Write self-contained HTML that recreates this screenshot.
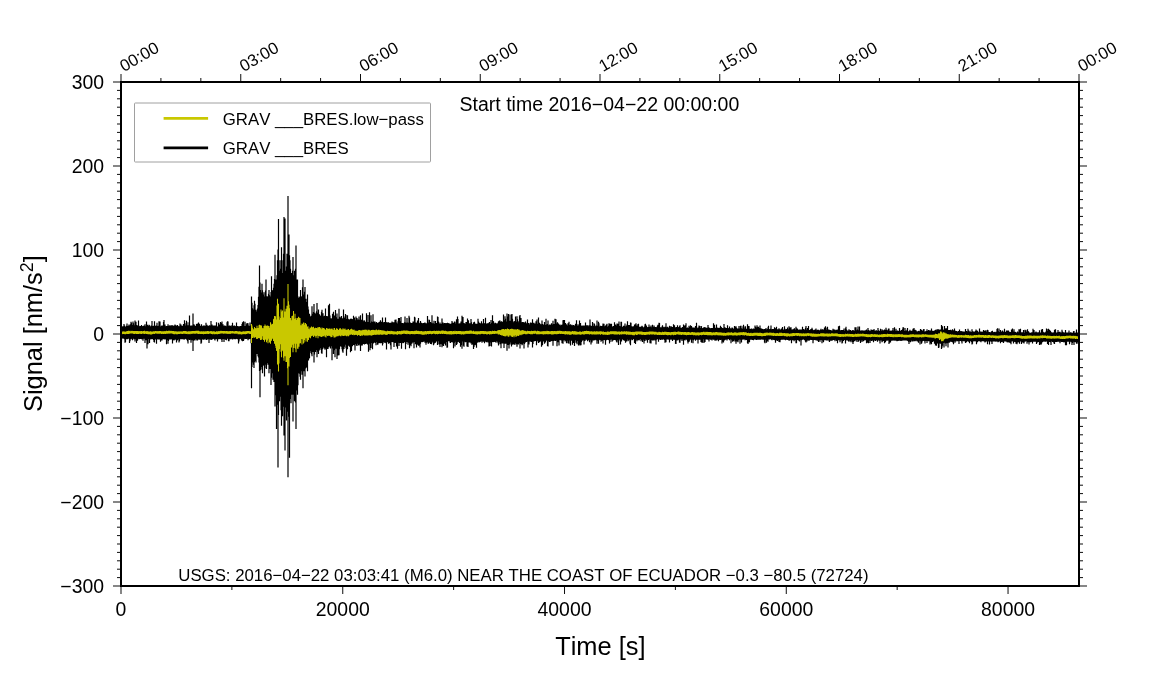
<!DOCTYPE html>
<html lang="en">
<head>
<meta charset="utf-8">
<title>GRAV BRES signal</title>
<style>
html,body{margin:0;padding:0;background:#fff;}
body{width:1151px;height:700px;overflow:hidden;}
svg{display:block;}
text{font-family:"Liberation Sans", "Helvetica", "Arial", sans-serif;fill:#000;font-kerning:none;}
.ann{font-size:19.4px;}
.lab{font-size:25.4px;}
.top{font-size:16.8px;}
.leg{font-size:16.8px;}
.note{font-size:16.8px;}
</style>
</head>
<body>
<svg width="1151" height="700" viewBox="0 0 1151 700">
<rect x="0" y="0" width="1151" height="700" fill="#fff"/>
<g fill="none" stroke-linejoin="miter" stroke-miterlimit="2" stroke-linecap="butt">
<path stroke="#000" stroke-width="1.2" d="M121 325.86V338.2M121.5 326.24V341.51M122 326.3V338.28M122.5 326.45V338.16M123 326.56V338.75M123.5 326.18V338.46M124 324.06V338.29M124.5 325.4V339.33M125 326.69V342.8M125.5 326.62V342.21M126 326.6V338.68M126.5 325.85V339.33M127 323.53V338.29M127.5 326.06V339.29M128 326.36V338.77M128.5 325.81V338.83M129 324.43V338.39M129.5 325.51V342.9M130 325.84V341.29M130.5 324.17V339.19M131 321.81V339.18M131.5 322.64V338.69M132 324.93V338.82M132.5 325.17V340.37M133 321.47V339.32M133.5 323.16V338.42M134 325.29V338.22M134.5 325.81V339.3M135 320.52V341.52M135.5 326.43V338.31M136 321.82V339.36M136.5 326.17V343.09M137 325.01V339.22M137.5 325.92V340.78M138 326.73V338.72M138.5 320.62V338.74M139 325.84V339.23M139.5 326.7V339.08M140 326.31V338.45M140.5 325.99V338.95M141 326.13V338.24M141.5 325.05V339.22M142 325.93V339.36M142.5 326.54V339.24M143 326.18V340.69M143.5 326.07V338.56M144 325.61V338.75M144.5 326.39V338.55M145 324.22V342.9M145.5 326.37V339.49M146 326.2V340.37M146.5 321.43V338.34M147 326.3V348.5M147.5 324.68V341.61M148 326.35V344.15M148.5 325.89V338.94M149 324.77V338.91M149.5 325.2V343.04M150 326.7V339.53M150.5 326.48V338.94M151 325.76V339.36M151.5 325.51V338.68M152 321.01V339.37M152.5 326.07V338.92M153 326.14V339.07M153.5 325.81V340.11M154 326.49V341.89M154.5 321.18V342.59M155 326.24V339.85M155.5 326.04V338.63M156 325.53V339.1M156.5 326.34V343.78M157 322.74V339.4M157.5 326.05V339.35M158 326.53V338.49M158.5 325.87V339.59M159 321.32V339.54M159.5 323.05V339.48M160 321.38V339.02M160.5 326.49V341.87M161 326.63V340.47M161.5 325.76V338.95M162 325.56V340.54M162.5 326.5V338.4M163 325.4V339.21M163.5 321.88V339.31M164 320.06V339.35M164.5 325.45V339.16M165 324.49V339.5M165.5 326.52V339.02M166 326.19V339.25M166.5 326V344.25M167 325.97V338.46M167.5 326.6V340.16M168 324.16V343.85M168.5 325.79V341.12M169 326.36V338.98M169.5 325.51V339.49M170 325.32V339.4M170.5 326.54V339.48M171 325.64V339.26M171.5 325.17V338.66M172 325.66V339.55M172.5 325.32V343.52M173 325.48V339.18M173.5 326.53V339.96M174 326.08V340.54M174.5 325.6V338.72M175 324.41V339.69M175.5 325.47V339.61M176 325.31V338.86M176.5 326.4V342.44M177 326.04V340.57M177.5 324.9V340.36M178 326.01V339.19M178.5 326.33V339.12M179 326.27V342.46M179.5 326.51V341.13M180 323.6V339.37M180.5 325.38V339.35M181 324.41V339.17M181.5 326.15V339.27M182 325.67V339.29M182.5 325.98V339.31M183 325.68V339.06M183.5 324.06V338.54M184 325.34V339.68M184.5 320.34V339.36M185 323.21V338.71M185.5 325.76V338.62M186 325.41V338.92M186.5 320.78V339.39M187 322.2V339.72M187.5 325.45V341.35M188 325.22V343.47M188.5 325.76V338.66M189 322.35V339.59M189.5 315.5V339.92M190 325.94V338.68M190.5 325.68V339.63M191 325.43V342.84M191.5 326.24V339.64M192 325.45V340.24M192.5 325.71V338.62M193 313.5V351M193.5 325.33V338.91M194 324.18V340.67M194.5 325.23V340.06M195 325.94V338.64M195.5 326.17V339.12M196 325.85V340.4M196.5 323.99V339.56M197 323.65V339.1M197.5 325.95V340.53M198 323.55V339.25M198.5 322.44V339.04M199 326V339.71M199.5 323.67V339.49M200 325.99V338.92M200.5 325.7V339.66M201 326.15V343.71M201.5 324.3V342.69M202 325.86V338.95M202.5 326.34V339.44M203 326.55V339.47M203.5 325.39V339.83M204 325.95V338.94M204.5 325.51V339.5M205 326.35V338.6M205.5 326.12V338.76M206 322.73V339.67M206.5 325.57V339.99M207 324.63V339.14M207.5 325.63V339.51M208 326.55V339.19M208.5 325.66V338.96M209 325.76V342.93M209.5 325.18V339.49M210 326.53V339M210.5 325.42V339.35M211 321.07V340.12M211.5 325.04V339.87M212 324.47V339.62M212.5 325.44V339.2M213 325.55V339.06M213.5 325.83V338.41M214 325.49V338.85M214.5 326.07V339.48M215 325.53V340.42M215.5 326.14V338.57M216 325.49V338.92M216.5 322.15V339.19M217 326.16V338.85M217.5 326.59V341.41M218 326.61V339.13M218.5 322.67V338.63M219 323.78V339.34M219.5 324.91V338.81M220 325.69V338.94M220.5 321.98V339M221 324.66V339.18M221.5 323.11V339.78M222 321.52V342.03M222.5 326.22V339.19M223 324.27V339.07M223.5 326.28V338.59M224 325.8V341.88M224.5 325.58V339.11M225 326.38V339.35M225.5 325.76V339.8M226 326.71V339.31M226.5 326.31V340.31M227 322.16V338.48M227.5 321.32V338.47M228 321.61V338.99M228.5 325.85V341.17M229 325.67V341.25M229.5 325.58V338.64M230 325.77V339.14M230.5 325.68V339.08M231 326.15V339.27M231.5 326.22V338.4M232 325.04V338.8M232.5 322.68V339.6M233 325.79V338.59M233.5 325.92V338.69M234 325.73V339.3M234.5 325.61V338.9M235 326.26V338.58M235.5 326.17V339.24M236 325.98V338.65M236.5 322.4V338.34M237 326.48V338.93M237.5 326.11V339.33M238 326.42V338.3M238.5 326.27V343.51M239 326.68V341.47M239.5 326.14V339.36M240 326.48V338.88M240.5 325.95V338.57M241 326.02V338.76M241.5 326.63V340.48M242 323.91V338.66M242.5 322.21V341.29M243 326.69V338.4M243.5 321.25V341.02M244 326.04V339.6M244.5 326.08V338.67M245 321.78V338.48M245.5 326.01V339.02M246 326.64V338.74M246.5 324.13V339.02M247 322.98V338.67M247.5 326.82V338.29M248 323.32V340.37M248.5 325.5V338.21M249 326.15V339.18M249.5 325.97V339.06M250 322.41V338.79M250.5 325.42V338.75M251 326.5V343.34M251.5 296.53V388.3M252 302.68V367.01M252.5 308.21V360.13M253 309.38V362.61M253.5 311.57V364.79M254 305.31V367.96M254.5 300.82V362.3M255 303.68V360.47M255.5 310.35V360.96M256 309.84V362.61M256.5 311.52V351.06M257 317.13V354.05M257.5 308.48V353.69M258 305.1V356.19M258.5 296.65V357.5M259 286.69V362.61M259.5 265.49V370.93M260 282.39V397.29M260.5 290.11V370.22M261 294.86V366.89M261.5 292.59V364.91M262 283.69V369.62M262.5 290.36V373.31M263 296.53V365.11M263.5 294.62V364.75M264 292.25V366.02M264.5 300.23V376.52M265 296.53V368.14M265.5 290.47V364.75M266 279.41V364.75M266.5 299.71V369.03M267 296.33V362.92M267.5 296.53V356.12M268 299.88V364.75M268.5 293.75V358.43M269 290.11V373.31M269.5 295.31V364.83M270 296.53V369.03M270.5 300.18V361.54M271 291.88V385.09M271.5 276.2V377.77M272 290.53V373.31M272.5 302.81V366.42M273 290.11V379.74M273.5 287.65V368.9M274 283.69V381.88M274.5 279.04V371.95M275 254.79V406.49M275.5 280.91V395.35M276 279.41V394.72M276.5 293.79V428.97M277 275.13V404.81M277.5 260.14V401.14M278 249.59V467.5M278.5 219.04V415.11M279 270.85V394.72M279.5 272.99V401.14M280 260.14V392.61M280.5 280.46V396.86M281 268.71V410.19M281.5 247.3V425.76M282 272.99V401.14M282.5 280.91V416.13M283 260.14V403.28M283.5 253.72V406.64M284 216.9V435.39M284.5 243.02V411.85M285 218.4V450.38M285.5 270.85V407.56M286 287.23V405.09M286.5 266.56V420.41M287 253.72V411.85M287.5 256.79V407.81M288 195.92V477.14M288.5 260.14V416.13M289 234.45V416.81M289.5 255.34V457.87M290 260.14V399M290.5 268.71V388.87M291 281.21V403.28M291.5 272.99V384.17M292 276.78V394.72M292.5 270.78V393.62M293 256.93V421.48M293.5 275.13V394.72M294 287.55V385.89M294.5 270.85V401.14M295 275.13V394.72M295.5 268.73V402.47M296 245.59V428.97M296.5 281.53V387.26M297 279.41V390.44M297.5 279.41V394.72M298 297.95V385.31M298.5 306.39V365.47M299 296.53V373.31M299.5 300.22V373.8M300 297.28V376.76M300.5 290.11V379.74M301 296.29V365.17M301.5 296.53V371.17M302 298.54V374.8M302.5 287.2V373.34M303 279.41V388.3M303.5 295.91V364.4M304 294.39V371.17M304.5 291.82V359.07M305 286.9V376.52M305.5 307.24V368.44M306 298.67V366.89M306.5 303.88V362.27M307 302.06V367.93M307.5 294.39V371.17M308 306.5V358.17M308.5 309.38V360.47M309 317.32V358.5M309.5 313.66V358.33M310 318.38V351.36M310.5 316.75V348.75M311 315.8V352.98M311.5 317.88V354.36M312 306.17V356.19M312.5 315.58V346.14M313 313.66V351.91M313.5 312.03V350.01M314 304.03V362.61M314.5 313.22V354.48M315 312.68V350.52M315.5 314.73V351.91M316 314.03V347.57M316.5 311.21V349.88M317 302.96V357.26M317.5 313.66V350.84M318 312.67V351.84M318.5 309.38V354.05M319 319.12V350.82M319.5 314.13V348.26M320 315.8V349.77M320.5 317.55V348.09M321 315.42V346.74M321.5 311.73V353.18M322 309.76V353.75M322.5 317.25V349.36M323 313.26V347.02M323.5 316.29V347.14M324 316.5V348.38M324.5 315.84V346.7M325 316.21V349.84M325.5 308.58V348.75M326 318.23V348.07M326.5 316V357.26M327 317.8V347.15M327.5 316.53V348.88M328 316.12V348.93M328.5 305.37V347.35M329 310.12V347.23M329.5 303.71V346.05M330 315.39V345.88M330.5 318.59V348.49M331 318.23V346.14M331.5 318.4V345.78M332 318.86V360.14M332.5 313.8V345.77M333 317.74V348.44M333.5 311.73V353.97M334 317.27V345.73M334.5 315.41V350.3M335 316.45V357.37M335.5 309.9V346.9M336 318.09V348.64M336.5 317.13V345.42M337 313.52V359M337.5 319.84V354.13M338 318.85V355.4M338.5 319.77V345.69M339 308.66V355.28M339.5 318.15V349.29M340 316.79V345.89M340.5 319.76V345.68M341 317.65V346.86M341.5 315.95V346.81M342 318.79V349.14M342.5 320.24V351.45M343 317.95V352.78M343.5 309.49V349.35M344 317.99V348.99M344.5 319.2V346.72M345 316.6V344.81M345.5 313.89V344.58M346 315.03V348.25M346.5 319.06V355.71M347 320.26V344.73M347.5 315.32V349.37M348 318.74V344.6M348.5 320.07V345.72M349 319.24V345.01M349.5 319.64V346.64M350 319.83V345.43M350.5 319.07V352.36M351 318.41V346.76M351.5 320.74V350.88M352 318.96V344.53M352.5 319.95V346.33M353 319.17V344.91M353.5 315.7V343.78M354 318.16V345.05M354.5 317.4V345.32M355 321.08V350.43M355.5 320.28V343.81M356 316.5V344.09M356.5 320.82V345.6M357 318.03V345.91M357.5 321.45V343.87M358 319.49V343.56M358.5 320.51V345.21M359 316.5V345.47M359.5 320.68V343.41M360 319.77V344.59M360.5 315.23V351.02M361 319.43V345.25M361.5 321.04V343.93M362 320.06V345.65M362.5 313.51V344.68M363 322.02V343.68M363.5 321.2V343.95M364 320.37V343.28M364.5 320.61V344.48M365 322.03V344.03M365.5 321.74V342.72M366 322.67V343.97M366.5 313.25V343.25M367 322.04V342.34M367.5 322.09V344.4M368 314.92V342.53M368.5 322.8V351.65M369 321.92V343.68M369.5 312.33V342.81M370 322.69V350.33M370.5 322.79V343.92M371 315.25V348.1M371.5 321.44V342.61M372 322.03V342.97M372.5 321.88V349.24M373 314.31V343.84M373.5 322.17V343.06M374 321.55V341.99M374.5 321.76V342.09M375 321.51V343.08M375.5 323.26V342.63M376 323.14V345.23M376.5 321.95V342.02M377 322.84V342.03M377.5 322.88V344.77M378 323.06V344.48M378.5 323.15V342.97M379 321.99V343.02M379.5 321.74V342.04M380 321.83V343.34M380.5 320.2V342.15M381 323.24V343.33M381.5 321.8V343.1M382 322.81V342.76M382.5 317.61V345.44M383 322.81V343.73M383.5 322.13V342.02M384 322.43V341.67M384.5 321.89V342.71M385 323.28V342.65M385.5 317.55V342.14M386 323.18V343.27M386.5 322.39V349.42M387 322.07V342.04M387.5 323.11V342.2M388 323.5V341.42M388.5 322.16V343.75M389 323.78V342.87M389.5 323.11V343.25M390 322.72V342.62M390.5 323.88V345.32M391 322.8V349.54M391.5 322.81V342.06M392 321.46V342.03M392.5 323.47V341.58M393 322.19V342.27M393.5 322.14V341.54M394 322.4V346.91M394.5 322.26V342.17M395 319.69V343.09M395.5 322.46V342.68M396 319.59V341.6M396.5 322.6V346.53M397 323.48V342.59M397.5 323.87V348.67M398 321.32V342.44M398.5 317.97V342.82M399 323.14V345.9M399.5 317.89V343.11M400 323.13V342.96M400.5 321.13V341.48M401 317.1V342.89M401.5 323.09V348.75M402 323.99V342.36M402.5 322.9V342.66M403 322.9V343.33M403.5 323.78V342.92M404 323.48V341.71M404.5 322.26V342.29M405 316.5V341.8M405.5 322.39V349.27M406 323.15V344.07M406.5 322.76V341.99M407 317.88V341.43M407.5 322.58V342.34M408 322.66V344.67M408.5 323.12V341.79M409 315.84V342.85M409.5 317.41V348.28M410 323.85V341.31M410.5 322.43V345.02M411 323.84V346.33M411.5 322.94V343.82M412 323.18V343.57M412.5 323.06V342.36M413 321.48V342.48M413.5 321.6V342.17M414 322.41V348.29M414.5 316.75V342.06M415 317.42V341.82M415.5 322.62V344.3M416 322.87V341.13M416.5 324.06V347.58M417 322.39V341.52M417.5 320.53V344.81M418 323.5V341.16M418.5 318.03V345.68M419 322.68V345.41M419.5 323.15V342.5M420 323.19V347.52M420.5 321.11V343.7M421 324.02V342.08M421.5 322.65V341.85M422 323.03V342.2M422.5 324.02V341.45M423 323.6V341.89M423.5 322.99V341.18M424 322.96V341.44M424.5 322.65V341.27M425 322.39V342.75M425.5 323.16V342.12M426 323.2V344.7M426.5 323.33V342.81M427 323.98V341.87M427.5 316.07V341.95M428 319.41V343.39M428.5 322.4V343.8M429 322.41V341.3M429.5 319.8V342.64M430 322.96V342.35M430.5 322.03V344.04M431 322.8V342.07M431.5 323.45V344.19M432 315.15V341.01M432.5 323.35V341.81M433 323.13V342.78M433.5 323.82V345.18M434 320.82V344.33M434.5 323.94V341.62M435 323.63V342.88M435.5 320.94V342.43M436 324V341.12M436.5 322.99V341.45M437 323.32V341.22M437.5 316.43V344.96M438 317V341.35M438.5 321.5V341.03M439 324.16V344.32M439.5 323.83V344.44M440 322.47V346.98M440.5 323.78V341.36M441 324.01V343.9M441.5 323.73V344.37M442 318.43V347.29M442.5 322.82V342.47M443 322.42V345.39M443.5 323.43V345.89M444 323.92V341M444.5 322.95V343.73M445 324.09V341.97M445.5 323.22V345.47M446 323.05V341.63M446.5 323.31V341.91M447 324.12V347.84M447.5 322.76V347.6M448 322.94V340.93M448.5 323.26V341.22M449 323.29V341M449.5 323.68V340.95M450 323.71V342.44M450.5 323.64V343.1M451 323.88V342.12M451.5 323.48V341.79M452 320.97V342.17M452.5 322.5V342.16M453 323.15V342.5M453.5 322.71V348.27M454 323.28V340.95M454.5 321.43V342.74M455 323.42V346.56M455.5 323.96V341.8M456 321.77V341.83M456.5 319.25V344.98M457 321.47V343.88M457.5 316.6V342.19M458 319.03V341.85M458.5 324.05V341.85M459 323.57V342.01M459.5 323.43V343M460 323.23V341.22M460.5 324.15V346.7M461 321.46V342.85M461.5 322.12V345.1M462 315.72V348.77M462.5 323.06V341.61M463 317.06V340.99M463.5 323.46V345.68M464 322.97V346.8M464.5 323.48V341.8M465 323.84V341.32M465.5 323.97V342.26M466 322V341.9M466.5 321.9V341.56M467 323.69V346.5M467.5 318.5V342M468 323.97V346.97M468.5 320.3V341.34M469 323.98V342.51M469.5 323.27V341.08M470 323.28V342.54M470.5 323.38V342.23M471 319.01V343.62M471.5 322.13V341.92M472 324.24V345.12M472.5 324.17V344.01M473 323.99V343.87M473.5 322.76V349.06M474 322.09V347.05M474.5 321.86V341.65M475 323.44V345.21M475.5 323.93V344.72M476 323.86V341.23M476.5 323.86V347.81M477 323.77V342.99M477.5 323.63V342.19M478 318.72V340.82M478.5 321.44V341.79M479 323.7V342.49M479.5 322.63V341.91M480 323.98V341.44M480.5 323.8V341.85M481 322.95V341.31M481.5 321.16V340.98M482 323.41V342.76M482.5 324.15V341.58M483 323.22V341.35M483.5 319.1V341.8M484 323.07V340.88M484.5 324.26V343.3M485 323.62V341.15M485.5 317.69V341.36M486 323.87V341.91M486.5 323.51V342.24M487 323.6V341.75M487.5 323.35V341.54M488 323.24V342.43M488.5 324.22V342.13M489 322.85V346.46M489.5 321.96V343.35M490 324.14V345.9M490.5 323.99V342.38M491 319.99V342.29M491.5 323.5V346.61M492 322.87V341.89M492.5 315.28V341.37M493 320.94V342.37M493.5 321.22V342.09M494 323.98V341.99M494.5 323.61V340.96M495 322.69V341.63M495.5 322.7V341.92M496 323.31V342.76M496.5 323.87V341.17M497 323.45V341.29M497.5 323.86V341.83M498 322.86V343.15M498.5 321.33V345.43M499 323.59V341.82M499.5 320.43V342.37M500 320.47V344.36M500.5 323.27V342.21M501 321.95V348.26M501.5 321.16V343.42M502 323.29V343.56M502.5 321.78V343.59M503 323.21V342.79M503.5 314.46V343.55M504 320.23V348.11M504.5 321.9V342.67M505 316.18V343.75M505.5 318.8V342.43M506 322.38V343.76M506.5 321.47V343.5M507 313.42V350.77M507.5 316.6V344.09M508 320.04V344.89M508.5 313.92V344.33M509 314.5V348.5M509.5 321.14V343.44M510 320.77V344.41M510.5 320.92V342.49M511 314.4V342.34M511.5 321.23V346.54M512 314.05V345.05M512.5 318.86V344.37M513 322.34V343.23M513.5 322.4V344.02M514 321.22V344.66M514.5 322.93V343.93M515 321.02V344.68M515.5 316.47V343.18M516 321.87V342.74M516.5 321.83V344.31M517 316.35V346.66M517.5 319.23V344.33M518 322.75V343.1M518.5 322.27V344.45M519 321.03V343.16M519.5 316.3V342.93M520 315V348.5M520.5 321.56V343.54M521 318.03V343.91M521.5 322.24V342.78M522 323.24V345.16M522.5 322.05V344.52M523 321.99V343.34M523.5 323.41V342.4M524 322.35V348.5M524.5 323.69V344.05M525 322.76V343.08M525.5 321.47V341.59M526 323.83V341.98M526.5 323.38V342M527 322.67V341.44M527.5 319.58V341.36M528 324.1V347.47M528.5 322.97V341.93M529 324.48V344.51M529.5 324.41V341.39M530 323.14V340.45M530.5 322.49V341.59M531 324.8V341.77M531.5 322.7V342.03M532 322.71V341.51M532.5 319.15V347.54M533 322.71V344.03M533.5 323.88V341.48M534 322.87V341.01M534.5 323.67V341.32M535 324.94V340.93M535.5 323.39V340.19M536 321.25V341.06M536.5 324.36V345.33M537 319.43V341.6M537.5 323.78V340.78M538 324.32V339.99M538.5 317.58V343.11M539 324.49V340.72M539.5 322.68V342.25M540 323.75V340.89M540.5 324.97V341.47M541 324.17V341.2M541.5 324.19V346.7M542 320.58V341.12M542.5 323.9V345.14M543 324.24V340.61M543.5 325.3V341.39M544 325V339.97M544.5 321.96V343.79M545 324.93V340.66M545.5 325.38V342.39M546 318.73V340.98M546.5 324.83V340.17M547 324.54V340.13M547.5 324.12V345.96M548 320.39V346.45M548.5 325.17V340.98M549 325.32V341.14M549.5 324.44V342.06M550 324.81V341.93M550.5 325.31V339.94M551 324.6V341.36M551.5 323.31V340.38M552 324.51V340.88M552.5 325.14V340.32M553 320.64V345.67M553.5 324.87V340.97M554 323.97V339.84M554.5 325.03V340.71M555 318.83V340.44M555.5 324.62V340.88M556 319.35V340.5M556.5 325.5V340.26M557 323.4V346.27M557.5 322.37V340.45M558 325.38V342.37M558.5 323.52V340.33M559 324.73V345.5M559.5 325.5V339.92M560 324.56V339.85M560.5 325.47V340.3M561 325.38V339.97M561.5 324.64V340.47M562 325.8V343.18M562.5 324.58V340.04M563 320.34V343.82M563.5 320V340.46M564 322.72V339.63M564.5 320.07V340.03M565 323.19V341.62M565.5 323.07V340.87M566 324.03V340.1M566.5 324.73V343.2M567 325.67V340.77M567.5 325.51V339.7M568 323.2V343.21M568.5 325.85V340.57M569 321.71V343.73M569.5 325.4V340.1M570 325.12V340.58M570.5 324.33V345.52M571 325.35V340.74M571.5 325.36V340.39M572 324.79V340.77M572.5 325.56V344.77M573 325.96V340.62M573.5 324.99V342.97M574 325.43V339.45M574.5 325.66V346.04M575 325.46V340.2M575.5 323.82V340.26M576 325.42V342.71M576.5 320.24V340.83M577 326.08V344.24M577.5 325.85V340.54M578 324.34V341.09M578.5 325.59V345.48M579 326.05V344.6M579.5 320.38V340.42M580 325.57V345.5M580.5 323.01V341.7M581 326.25V345.36M581.5 325.82V341.89M582 325.54V340.72M582.5 326.03V340.45M583 325.78V340.19M583.5 325.53V339.6M584 326.07V344.48M584.5 326.01V340.36M585 325.28V341.11M585.5 322.49V339.78M586 325.21V339.41M586.5 325.29V339.78M587 326.02V339.55M587.5 325.33V341.24M588 326.26V340.1M588.5 326.54V339.35M589 325.27V340.5M589.5 325.32V342.37M590 319.5V340.32M590.5 325.52V339.21M591 326.12V344.47M591.5 325.99V340M592 325.71V342.49M592.5 321.91V340.12M593 326.46V340.41M593.5 326.06V340.16M594 323.28V340.41M594.5 324.05V339.96M595 326.18V339.86M595.5 326.8V339.44M596 325.56V340.2M596.5 325.66V339.96M597 320.5V343.78M597.5 325.69V340.8M598 326.77V339.34M598.5 321.74V343.66M599 323.21V340.18M599.5 326.46V339.65M600 326.6V339.03M600.5 325.71V339.93M601 326.34V341.82M601.5 325.98V339.6M602 326.31V340.68M602.5 325.74V340.03M603 323.4V343.57M603.5 324.51V340.08M604 323.63V339.99M604.5 326.64V339.55M605 326.15V340.13M605.5 325.76V344.68M606 325.13V339.63M606.5 324.46V340.15M607 323.68V339.62M607.5 326.98V339.05M608 326.64V340.08M608.5 325.72V339.51M609 323.22V340.23M609.5 326.48V343.62M610 323.87V342.01M610.5 326.34V339.82M611 323.73V339.07M611.5 323.74V339.62M612 326.26V341.66M612.5 327.06V340.65M613 326.8V340.58M613.5 325.98V339.07M614 326.11V339.96M614.5 322.33V339.25M615 325.91V339.96M615.5 324.38V339.03M616 326.17V340.61M616.5 325.41V341.82M617 323.49V342.5M617.5 326.41V340.14M618 323.66V339.53M618.5 326.86V345M619 321.61V340.54M619.5 325.98V338.97M620 326.94V339.14M620.5 326.35V344.45M621 321.79V340M621.5 321.76V341.55M622 327.24V339.17M622.5 326.7V339.39M623 326.94V339.06M623.5 325.65V340.23M624 327.02V339.15M624.5 325.79V340.83M625 323.46V340.06M625.5 327.09V342.71M626 326.38V339.02M626.5 325.7V341.46M627 324.44V338.97M627.5 321.19V339.4M628 325.93V341.24M628.5 324.96V340.51M629 326.6V339.81M629.5 324.99V339.81M630 326.42V343.8M630.5 322.38V345.14M631 322.72V339.18M631.5 327.12V339.17M632 326.33V340.35M632.5 327.31V340.1M633 326.84V339.08M633.5 326.14V339.08M634 327.29V339.35M634.5 324.55V342.89M635 326.46V340.05M635.5 324.34V344M636 323.16V339.71M636.5 326.58V339.29M637 325.48V341.35M637.5 327.18V339.11M638 324.02V340.03M638.5 323.7V340.03M639 326.71V340.43M639.5 326.73V339.63M640 326.68V339.08M640.5 327.2V339.03M641 326.69V341.23M641.5 326.43V340.03M642 325.74V339.9M642.5 326.54V342.04M643 327.4V339.77M643.5 327.31V339.63M644 327.31V343.38M644.5 326.6V339.35M645 324.21V340.9M645.5 323.73V339.54M646 327.13V339.12M646.5 325.5V339.72M647 327.31V340.42M647.5 327.26V342.64M648 327V339.44M648.5 326.99V340.03M649 324.38V339.11M649.5 326.79V339.16M650 326.84V343.28M650.5 326.88V339.61M651 325.5V343.61M651.5 327.45V340.04M652 327.31V339.9M652.5 324.64V340.45M653 327.13V339.61M653.5 327.08V340.34M654 325.47V340.42M654.5 326.82V339.87M655 326.92V339.85M655.5 326.94V340.49M656 327.21V344.42M656.5 327.51V339.79M657 326.66V339.42M657.5 325.61V338.92M658 324.65V339.02M658.5 326.3V341.87M659 322.65V339.6M659.5 323.12V339.23M660 327.46V339.53M660.5 327.21V340.01M661 327.47V339.75M661.5 327.71V339.41M662 326.51V338.99M662.5 325.35V339.68M663 327.35V339.19M663.5 327.7V338.98M664 326.78V339.51M664.5 327.33V339.92M665 327.23V342.79M665.5 326.87V339.28M666 323.19V342.32M666.5 327.28V339.57M667 327.76V339.58M667.5 326.86V339.02M668 327.59V339.52M668.5 327.55V338.96M669 327.91V339.74M669.5 325.75V342.47M670 327.28V339.62M670.5 327.79V338.94M671 325.95V339.85M671.5 326.91V338.89M672 327.1V339.42M672.5 327.03V340.88M673 327.37V339.22M673.5 324.33V338.93M674 327.91V339.92M674.5 325.25V338.86M675 327.75V339.39M675.5 327.37V343.69M676 328.07V343.94M676.5 326.94V338.97M677 327.16V340.38M677.5 325.24V340.2M678 326.99V340.21M678.5 327.96V339.43M679 327.26V339.43M679.5 326.17V342.63M680 325.33V342.76M680.5 327.87V339.54M681 327.86V339.39M681.5 327.83V339.61M682 327.9V341.05M682.5 327.08V339.61M683 327.65V339.38M683.5 324.56V344.65M684 327.09V339.03M684.5 325.56V340.1M685 327.21V340.59M685.5 325.23V339.57M686 323.19V339.02M686.5 327.98V339.66M687 328.12V339.25M687.5 327.51V341.51M688 327.97V343.57M688.5 328.03V339.59M689 325.84V341.94M689.5 328.12V340.73M690 326.71V338.94M690.5 325.14V339.47M691 328.1V339.85M691.5 326.1V342.77M692 327.33V339.71M692.5 328V338.92M693 327.63V343.34M693.5 327.6V340.3M694 328.01V339.53M694.5 327.67V339.49M695 327.47V338.92M695.5 326.06V340.87M696 327.8V339.59M696.5 322.77V339.72M697 328.13V339.68M697.5 328.19V339.71M698 327.52V343.46M698.5 327.86V338.86M699 325.48V339.81M699.5 326.09V339.22M700 328.05V339.75M700.5 328.14V339.54M701 326.04V341.91M701.5 326.26V342.58M702 327.9V338.8M702.5 328.21V342.74M703 328.41V339.25M703.5 327.98V339.05M704 326.97V342.99M704.5 328.28V340.15M705 327.26V342.03M705.5 327.44V339.25M706 328.25V339.59M706.5 327.85V339.04M707 328.1V339.53M707.5 327.81V339.47M708 325V339.87M708.5 327.21V339.85M709 327.64V341.38M709.5 327.69V339.29M710 327.88V339.07M710.5 328.39V339.81M711 328.58V339.84M711.5 327.99V339.51M712 328.03V340.49M712.5 328V339M713 328.55V339.36M713.5 323.21V339.84M714 327.81V339.67M714.5 324.83V339.69M715 328.52V340.86M715.5 327.78V340.49M716 327.84V339.81M716.5 324.46V340.51M717 327.42V340.31M717.5 327.9V339.58M718 327.83V339.24M718.5 328.51V341.3M719 327.97V340.05M719.5 327.82V339.76M720 328.34V338.91M720.5 325.79V339.97M721 327.1V339.63M721.5 327.36V339.54M722 328.62V343.39M722.5 328.11V339.9M723 328.74V341.65M723.5 328.31V342.43M724 324.03V339.69M724.5 328.88V340.39M725 327.19V339.9M725.5 327.9V339.18M726 328.67V339.4M726.5 327.92V339.13M727 328.65V340.51M727.5 325.13V339.33M728 328.03V339.02M728.5 328.72V339.03M729 328.18V339.33M729.5 326.44V340.15M730 328.73V338.94M730.5 328.33V339.24M731 328.61V343.29M731.5 328.42V339.69M732 327.56V339.31M732.5 327.81V341.64M733 328.94V339.19M733.5 328.84V341.19M734 328.41V339.37M734.5 326.06V339.81M735 326.8V341.61M735.5 328.81V339.53M736 326.31V343.7M736.5 327.82V340.51M737 328.62V341.5M737.5 328.73V339.15M738 328.44V342.26M738.5 328.68V340.26M739 326.05V338.94M739.5 329.03V339.56M740 328.38V343.82M740.5 325.66V339.81M741 325.65V339.13M741.5 328.34V342.45M742 329.1V339.51M742.5 328.8V339.56M743 326.18V339.77M743.5 324.63V339.28M744 328.62V339.09M744.5 328.63V339.28M745 326.44V340.36M745.5 326.2V339M746 328.75V339.74M746.5 329.2V339.92M747 328.74V339.71M747.5 324.32V342.88M748 326.03V344.08M748.5 327.42V339.33M749 326.12V342.39M749.5 328.8V341.88M750 328.78V339.11M750.5 328.95V339.64M751 328.91V339.7M751.5 328.6V339.62M752 329.22V339.82M752.5 329.14V339.91M753 328.68V339.26M753.5 328.55V340.35M754 329.01V339.07M754.5 329.1V339.01M755 325.46V339.84M755.5 326.74V339.54M756 329.05V339.49M756.5 327.44V339.89M757 325.16V339.45M757.5 326.79V339.74M758 329.28V339.75M758.5 326.8V339.46M759 328.86V339.69M759.5 327.92V339.54M760 325.4V339.84M760.5 329.55V339.87M761 328.21V339.34M761.5 328.8V339.56M762 328.85V339.52M762.5 329.26V339.49M763 328.96V339.63M763.5 329.53V339.73M764 329.54V339.2M764.5 328.98V342.61M765 328.92V343.17M765.5 329.25V339.68M766 328.02V339.43M766.5 329.39V342.7M767 329.39V341.11M767.5 329.06V340.66M768 327.33V341.87M768.5 325.78V339.41M769 329.61V339.31M769.5 329.22V339.58M770 329.12V339.35M770.5 328.77V339.24M771 325.52V339.23M771.5 329.46V339.67M772 329.14V340.33M772.5 329.03V339.33M773 329.45V339.53M773.5 328.88V339.81M774 329.5V340M774.5 327.23V339.72M775 329.17V340.31M775.5 328.53V342.84M776 327.99V340.66M776.5 326.84V340.04M777 329.43V339.57M777.5 329.29V340.95M778 329.29V339.63M778.5 329.21V340.33M779 328.15V342.02M779.5 329.88V339.43M780 329.14V342.26M780.5 329.79V340.01M781 329.84V339.54M781.5 328.44V339.73M782 329.85V339.63M782.5 327.04V339.74M783 329.81V339.83M783.5 329.62V339.46M784 329.58V339.61M784.5 326.21V339.67M785 328.87V339.63M785.5 329.62V340.37M786 329.48V339.53M786.5 328.96V339.57M787 329.34V340.08M787.5 327.44V339.8M788 329.33V339.97M788.5 329.15V339.86M789 326.29V340.78M789.5 329.66V340.38M790 327.52V339.42M790.5 329.21V340.13M791 327.23V339.66M791.5 329.98V343.23M792 329.43V340.46M792.5 329.47V339.95M793 329.29V339.86M793.5 329.18V339.94M794 328.81V341.29M794.5 328.21V340.16M795 330.08V339.89M795.5 329.79V340.06M796 326.83V343.17M796.5 330.06V343.14M797 328.27V340.14M797.5 329.08V340.03M798 330.09V339.96M798.5 329.95V339.54M799 329.45V341.06M799.5 329.43V341.46M800 329.94V340.02M800.5 329.45V339.63M801 329.6V345.5M801.5 329.47V340.26M802 329.58V339.45M802.5 326.8V339.72M803 329.54V339.35M803.5 328.97V339.6M804 329.45V339.55M804.5 329.96V340.15M805 329.4V340.11M805.5 327.63V341.84M806 325.9V342.49M806.5 330.22V340.25M807 329.85V341.45M807.5 328.11V339.98M808 328.41V340.27M808.5 325.95V340.61M809 330.18V340.69M809.5 329.89V340.28M810 329.98V339.41M810.5 329.48V339.65M811 329.01V339.89M811.5 329.49V340.12M812 327.72V340.09M812.5 329.26V339.5M813 329.97V343.28M813.5 330.24V340.3M814 330.24V339.67M814.5 329.85V340.12M815 330.2V339.46M815.5 329.46V340.23M816 328.57V339.89M816.5 330.19V339.92M817 330.39V340.87M817.5 329.79V340.77M818 329.64V340.07M818.5 329.86V342.11M819 330.19V339.65M819.5 330.22V340.2M820 330.44V341.65M820.5 329.8V339.95M821 328.76V339.74M821.5 330.07V340M822 330.14V343.28M822.5 329.34V340.54M823 329.76V339.94M823.5 329.61V342.33M824 329.63V340.14M824.5 327.49V339.63M825 329.77V340.25M825.5 326.32V340.28M826 329.96V340.26M826.5 329.85V340.4M827 327.78V340.25M827.5 326.64V340.49M828 329.79V339.82M828.5 329.6V339.84M829 330.02V341.21M829.5 329.73V342.1M830 330.26V340.71M830.5 330.11V340.86M831 330.22V339.62M831.5 330.4V340.8M832 330.43V339.79M832.5 330.48V340.49M833 328.68V339.91M833.5 329.39V339.85M834 329.93V339.94M834.5 329.42V339.88M835 330.25V341.34M835.5 330.59V339.72M836 329.75V339.81M836.5 329.87V340.65M837 330.09V341.09M837.5 330.64V343.19M838 329.14V340.3M838.5 326.32V339.86M839 329.65V340.29M839.5 325.8V339.86M840 330.33V342.13M840.5 330.54V340.46M841 330.23V340.15M841.5 330.08V339.82M842 329.94V343.48M842.5 330.13V342.78M843 329.98V340.16M843.5 330.65V341.01M844 328.49V339.77M844.5 330.78V340.01M845 330.74V339.75M845.5 328.32V343.42M846 326.75V339.81M846.5 329.47V340.32M847 330.36V340.6M847.5 330.7V339.75M848 330.65V340.51M848.5 330.44V341.28M849 329.32V341.74M849.5 330.46V340.49M850 330.31V340.36M850.5 330.09V341.26M851 330.81V342.15M851.5 330.83V340.32M852 330.83V340.61M852.5 330.17V342.3M853 329.98V344.02M853.5 330.59V342.06M854 330.73V340.93M854.5 330.85V340.29M855 327.3V341.17M855.5 329.37V339.9M856 327.17V340.03M856.5 330.2V340.55M857 330.41V341.94M857.5 329.51V339.87M858 326.55V340.01M858.5 330.84V341.81M859 330.19V340.17M859.5 326.46V339.86M860 330.73V340.7M860.5 330.4V342.9M861 330.62V340.39M861.5 330.82V340.62M862 330.15V342.1M862.5 330.46V340.09M863 330.45V340.5M863.5 330.99V341.2M864 330.55V340.57M864.5 330.39V340.29M865 330.91V340.31M865.5 330.34V339.88M866 330.6V340.25M866.5 329.42V343.22M867 330.86V342.16M867.5 330.56V342.8M868 328.02V340.58M868.5 329.95V343.32M869 330.38V340.64M869.5 330.51V340.56M870 331.08V343.11M870.5 330.88V340.42M871 329.46V340.47M871.5 330.66V340.9M872 329.76V340.43M872.5 330.01V340.22M873 330.06V340.71M873.5 330.76V342.37M874 329V340.66M874.5 330.67V340.18M875 330.51V340.06M875.5 330.86V340.99M876 330.49V340.21M876.5 330.3V339.97M877 331.04V340.45M877.5 330.88V341.65M878 328.03V340.47M878.5 330.26V340.02M879 330.8V340.61M879.5 330.82V340.77M880 330.84V343.41M880.5 328.74V340.12M881 331V340.56M881.5 330.74V340.13M882 329.23V342.3M882.5 331V341.51M883 330.36V340.88M883.5 330.34V340.91M884 330.56V340.73M884.5 329.43V343.27M885 330.04V340.58M885.5 330.4V342.14M886 327.82V340.74M886.5 330.5V340.64M887 329.64V340.68M887.5 330.49V340.45M888 331V340.53M888.5 328.45V340.56M889 328.41V343.95M889.5 331.04V342.86M890 330.84V340.37M890.5 330.65V342.49M891 330.57V340.9M891.5 331.06V340.56M892 330.82V340.48M892.5 330.31V340.15M893 328.12V340.78M893.5 330.88V340.33M894 330.56V340.18M894.5 327.16V340.44M895 330.69V340.81M895.5 330.72V340.33M896 328.8V340.53M896.5 330.76V340.66M897 331.08V341.18M897.5 330.48V340.64M898 331.19V340.96M898.5 331.05V340.21M899 330.66V340.68M899.5 328.1V340.59M900 331V340.72M900.5 330.91V340.39M901 330.54V341.02M901.5 330.11V340.41M902 330.36V340.79M902.5 329.34V340.6M903 327.32V340.33M903.5 327.14V340.56M904 330.95V340.57M904.5 331.3V340.44M905 328V340.28M905.5 330.53V340.43M906 331.32V340.28M906.5 330.81V340.34M907 329.85V340.86M907.5 327.93V340.65M908 331.2V340.94M908.5 331.23V341.8M909 331.45V343.98M909.5 330.75V340.73M910 329.68V341.46M910.5 330.88V342.27M911 331.26V340.27M911.5 330.66V340.61M912 331.38V341.52M912.5 330.54V340.88M913 328.82V341.54M913.5 331.11V340.57M914 327.96V340.85M914.5 331.03V341.14M915 329.8V340.84M915.5 331.37V340.41M916 330.35V341.16M916.5 331.32V340.41M917 331.39V340.42M917.5 331.58V341.41M918 331.14V340.42M918.5 331.1V342.83M919 330.72V340.56M919.5 331.31V340.81M920 331.39V344.4M920.5 329.1V340.91M921 331.02V341.19M921.5 329.66V343.78M922 331.26V342.47M922.5 330.6V340.99M923 331V340.83M923.5 329.28V340.87M924 329.01V340.94M924.5 331.48V341.23M925 331.42V343.49M925.5 331.47V340.95M926 331.07V340.85M926.5 331.44V341.05M927 329.35V342.97M927.5 330.9V340.77M928 331.58V340.96M928.5 330V341.18M929 331.16V341.26M929.5 330.43V340.62M930 330.32V344.51M930.5 330.99V343.34M931 330.83V340.51M931.5 328.59V344.26M932 331.03V340.96M932.5 330.83V342.07M933 331.08V341.4M933.5 331.04V341.11M934 330.81V341.21M934.5 330.66V343.64M935 330.36V343.44M935.5 329.77V345.48M936 330.21V342.06M936.5 330.35V345.66M937 329.32V343.32M937.5 329.55V343.04M938 329.28V343.76M938.5 329.24V347.93M939 329.39V347.52M939.5 329.69V343.41M940 329.68V343.15M940.5 329.8V343.68M941 329.24V342.74M941.5 324.9V349.1M942 328.88V347.77M942.5 326.29V345.75M943 329.9V342.68M943.5 329.69V343.01M944 329.51V347.5M944.5 326V342.82M945 327.96V342.35M945.5 329.63V343.46M946 328.88V346.26M946.5 328.17V342.79M947 329.21V343.18M947.5 326.06V342.99M948 330.19V347.57M948.5 330.06V342.85M949 330.53V342.66M949.5 330.1V342.43M950 330.6V341.57M950.5 329.69V341.83M951 330.52V341.25M951.5 330.14V341.85M952 331.72V341.99M952.5 329.31V341.11M953 331.21V342.67M953.5 330.29V344.34M954 331.18V340.71M954.5 328.55V341.15M955 331.29V342.81M955.5 330.81V340.9M956 331.22V341.6M956.5 331.11V340.76M957 331.93V340.74M957.5 331.48V341.36M958 331.96V341.09M958.5 330.99V341.25M959 331.57V343.97M959.5 329.58V340.98M960 331.29V340.98M960.5 331.87V340.93M961 330.98V340.64M961.5 331.91V341.57M962 331.34V343.48M962.5 331.44V340.67M963 331.53V341.01M963.5 331.54V341.13M964 331.49V340.89M964.5 331.68V341.11M965 331.63V341.46M965.5 329.04V342.97M966 331.1V341.33M966.5 331.05V342.35M967 331.53V341.3M967.5 332.06V340.64M968 328.84V341.31M968.5 330.42V341.65M969 332.05V340.8M969.5 331.83V343.31M970 330.71V341.16M970.5 332.01V341.13M971 332.2V340.92M971.5 331.96V342.04M972 329.27V344.46M972.5 331.13V343.82M973 331.59V341.19M973.5 332.22V340.74M974 331.54V341.51M974.5 331.63V340.91M975 331.8V340.8M975.5 330.88V341.22M976 329.51V341.43M976.5 332.24V344.25M977 330.47V341.02M977.5 330.96V342.29M978 332.14V340.98M978.5 332.27V341.17M979 331.76V341.12M979.5 328.56V340.99M980 331.26V341.54M980.5 332.16V341.11M981 331.87V342.28M981.5 332.15V340.84M982 331.59V341.02M982.5 332.11V341.32M983 332.22V340.78M983.5 329.88V341.08M984 331.36V341.47M984.5 330.91V341.1M985 330.52V342.47M985.5 332.37V341.05M986 330.24V341.79M986.5 331.64V341.1M987 332.28V340.88M987.5 329.63V344.25M988 330.37V341.08M988.5 332.32V341.47M989 332.04V341.44M989.5 332.04V344.51M990 332.27V341.11M990.5 332.27V341.55M991 332.42V341.4M991.5 331.34V341.67M992 332.23V344.09M992.5 330.79V341.28M993 332.02V341.39M993.5 332.27V341.18M994 332.33V341.52M994.5 332.1V341.3M995 331.69V341.56M995.5 332.32V341.33M996 332.38V341.66M996.5 331.87V341.13M997 329.11V341.16M997.5 328.14V341.4M998 332.4V342.35M998.5 331.35V341.73M999 328.47V341.47M999.5 332.18V341.3M1000 331.92V341.42M1000.5 330.02V343.2M1001 332.04V341.35M1001.5 331.6V341.9M1002 331.72V341.72M1002.5 330.52V341.44M1003 331.51V342.36M1003.5 331.87V343.11M1004 332.38V341.48M1004.5 328.74V340.96M1005 331.79V341.57M1005.5 332.55V341.02M1006 332.04V341.49M1006.5 330.57V341.52M1007 332.24V342.14M1007.5 330.47V341.09M1008 331.02V342.56M1008.5 330.59V341.69M1009 332.14V342.22M1009.5 331.63V341.63M1010 332.38V343.09M1010.5 332.02V341.31M1011 332.15V344.19M1011.5 329.57V341.41M1012 332.53V341.17M1012.5 328.43V341.15M1013 331.51V341.42M1013.5 331.87V343.6M1014 329.27V342.04M1014.5 332.09V341.65M1015 331.85V341.08M1015.5 332.1V341.88M1016 332.63V343.69M1016.5 332.58V341.59M1017 332.55V344.26M1017.5 331.54V341.14M1018 332.2V342.45M1018.5 332.23V341.83M1019 329.32V341.95M1019.5 329.52V343.83M1020 331.75V341.58M1020.5 328.77V341.42M1021 332.75V341.57M1021.5 332.2V343.88M1022 332.43V341.24M1022.5 332.24V341.88M1023 332.48V342.73M1023.5 329.93V341.27M1024 332.75V343.4M1024.5 332.79V341.46M1025 329.68V341.71M1025.5 330.62V341.25M1026 330.18V341.24M1026.5 332.55V341.21M1027 332.12V343.78M1027.5 329.37V341.62M1028 331.48V342.13M1028.5 331.32V341.94M1029 332.16V344.55M1029.5 332.8V341.48M1030 332.65V342.35M1030.5 332.73V342.34M1031 332.66V341.51M1031.5 332.5V341.77M1032 332.31V341.89M1032.5 332.26V343.45M1033 328.72V341.67M1033.5 332.87V341.75M1034 329.88V341.41M1034.5 332.54V341.87M1035 332.85V341.59M1035.5 332.25V341.74M1036 331.57V341.75M1036.5 332.22V344.05M1037 332.34V341.29M1037.5 332.42V342.6M1038 332.56V341.44M1038.5 332.35V341.93M1039 332.4V341.21M1039.5 330.22V344.96M1040 332.62V344.32M1040.5 332.85V341.61M1041 332.48V344.7M1041.5 329.51V343.77M1042 331.38V341.82M1042.5 328.88V342.25M1043 331.66V341.8M1043.5 332.28V341.47M1044 332.28V341.34M1044.5 332.92V341.48M1045 332.8V341.7M1045.5 332.2V341.75M1046 331.4V341.29M1046.5 328.58V341.43M1047 330.74V341.46M1047.5 332.86V343.95M1048 329.11V341.73M1048.5 328.77V345.02M1049 332.41V342.06M1049.5 329.71V341.5M1050 332.44V341.96M1050.5 330.81V342.25M1051 331.92V345.03M1051.5 332.91V341.31M1052 332.52V341.31M1052.5 332.97V341.92M1053 332.51V341.5M1053.5 332.59V342.26M1054 332.24V343.6M1054.5 329.83V344.01M1055 332.57V342.12M1055.5 329.25V341.58M1056 333.04V341.88M1056.5 332.5V341.44M1057 332.76V342.05M1057.5 332.36V341.44M1058 329.88V341.56M1058.5 333.06V341.67M1059 332.06V341.35M1059.5 331.67V341.63M1060 331.64V343.21M1060.5 332.47V341.53M1061 332.48V341.51M1061.5 332.88V342.12M1062 329.8V341.98M1062.5 331.59V341.72M1063 332.39V341.95M1063.5 332.36V341.58M1064 332.84V342.38M1064.5 332.46V341.98M1065 332.94V342.03M1065.5 329.96V345.27M1066 332.44V341.4M1066.5 332.73V345.26M1067 332.59V341.7M1067.5 332.49V341.63M1068 333.12V341.82M1068.5 332.62V341.63M1069 330.56V341.76M1069.5 332.87V344.34M1070 332.76V341.52M1070.5 332.36V341.58M1071 333.19V342.14M1071.5 332.49V341.93M1072 332.66V344.93M1072.5 333.05V342.98M1073 332.69V341.83M1073.5 331.18V341.57M1074 330.92V344.93M1074.5 333.25V342.08M1075 332.72V342.11M1075.5 332.9V342.13M1076 332.56V341.52M1076.5 329.47V343.7M1077 332.5V341.64M1077.5 332.5V342.15M1078 332.81V343.85M1078.5 332.95V342.18M1079 333.09V343.41"/>
<path stroke="#c9c800" stroke-width="1.05" d="M121 331.58V334.25M121.5 331.5V334.01M122 331.55V334.23M122.5 331.61V333.88M123 331.54V333.87M123.5 331.53V333.94M124 331.29V334.11M124.5 331.68V333.98M125 331.74V334.15M125.5 331.65V334.15M126 331.58V333.7M126.5 331.28V333.86M127 331.35V334.06M127.5 330.93V333.94M128 331.49V333.73M128.5 330.83V333.91M129 331.32V333.72M129.5 330.9V333.87M130 330.84V333.36M130.5 331.26V333.61M131 331.29V333.62M131.5 331.02V333.31M132 330.73V333.52M132.5 330.98V333.52M133 331.19V333.57M133.5 330.88V333.67M134 330.93V333.93M134.5 331.44V333.95M135 331.05V333.88M135.5 331.34V333.62M136 331.02V333.61M136.5 330.97V333.93M137 330.93V333.71M137.5 331.01V333.94M138 330.99V333.51M138.5 331.2V334.01M139 331.24V333.69M139.5 331.38V333.49M140 330.89V333.67M140.5 331.25V333.37M141 331.18V333.89M141.5 330.92V333.9M142 331.3V333.79M142.5 331.18V333.36M143 331.14V333.49M143.5 331.1V333.63M144 330.92V333.81M144.5 330.85V333.89M145 331.06V333.75M145.5 331.43V333.44M146 331.46V333.66M146.5 331.25V334.12M147 331.1V333.97M147.5 331.67V334.04M148 331.29V334.16M148.5 331.56V334M149 331.71V334.31M149.5 331.76V334.16M150 331.32V334.19M150.5 331.3V334.38M151 331.64V333.92M151.5 331.58V334.38M152 331.6V334.14M152.5 331.41V333.92M153 331.51V334.02M153.5 331.34V333.79M154 331.41V333.83M154.5 331.54V334.06M155 331.06V333.51M155.5 330.9V333.47M156 331.03V333.58M156.5 331.37V333.54M157 331.24V333.63M157.5 331.15V333.69M158 331.01V333.48M158.5 331.46V333.64M159 331.27V333.67M159.5 331.1V333.81M160 331.06V333.7M160.5 331V333.61M161 331.29V333.49M161.5 331.46V333.91M162 331.19V333.51M162.5 331.36V333.86M163 331.42V333.96M163.5 331.45V334.09M164 330.96V333.97M164.5 331.29V333.8M165 331.46V333.53M165.5 331.14V333.9M166 330.95V333.35M166.5 330.87V333.67M167 331.1V333.75M167.5 330.99V333.74M168 331.09V333.68M168.5 330.84V333.28M169 330.64V333.58M169.5 330.71V333.32M170 330.99V333.69M170.5 330.96V333.33M171 330.75V333.3M171.5 330.93V333.4M172 330.91V333.42M172.5 330.89V333.55M173 331.15V334.01M173.5 331.02V333.68M174 331.51V334.13M174.5 331.28V333.73M175 331.31V334.27M175.5 331.39V333.84M176 331.34V333.87M176.5 331.47V334.26M177 331.82V333.84M177.5 331.75V334.26M178 331.33V334.08M178.5 331.5V333.83M179 331.49V333.98M179.5 331.4V333.69M180 331.16V333.99M180.5 331.56V333.6M181 331.46V333.51M181.5 331.47V333.67M182 331.14V333.9M182.5 331.51V334.04M183 331.53V333.87M183.5 331.02V333.53M184 331.29V333.78M184.5 331.08V333.74M185 331.03V333.67M185.5 331.56V333.71M186 331.1V333.91M186.5 331.47V334.11M187 331.51V333.76M187.5 331.46V333.72M188 331.64V334.13M188.5 331.16V334.06M189 331.25V333.94M189.5 331.34V333.89M190 331.46V334.19M190.5 331.62V333.59M191 331.05V333.81M191.5 331.39V333.82M192 331.33V334.02M192.5 331.09V333.44M193 330.92V333.6M193.5 331.33V333.53M194 330.91V333.67M194.5 330.96V333.25M195 331.14V333.68M195.5 330.95V333.7M196 330.86V333.25M196.5 330.97V333.38M197 330.81V333.46M197.5 330.77V333.75M198 330.99V333.44M198.5 330.76V333.9M199 330.91V333.79M199.5 331.38V333.47M200 331.42V333.99M200.5 331.45V334.1M201 331.36V333.72M201.5 331.61V333.94M202 331.14V333.92M202.5 331.5V334.1M203 331.53V333.67M203.5 331.17V334.16M204 331.43V334.09M204.5 331.41V333.67M205 331.36V333.89M205.5 331.19V334.05M206 331.47V333.95M206.5 331.38V333.81M207 331.03V333.7M207.5 331.07V333.77M208 331.12V333.93M208.5 331.44V334.01M209 331.37V333.71M209.5 331.39V333.57M210 331.38V333.5M210.5 331.3V333.56M211 331.07V333.85M211.5 331.25V333.89M212 331.39V333.79M212.5 331.45V334.32M213 331.25V334.2M213.5 331.43V333.81M214 331.37V333.78M214.5 331.58V334.34M215 331.83V333.87M215.5 331.74V334.05M216 331.79V334.21M216.5 331.25V333.97M217 331.61V333.89M217.5 331.48V334.22M218 331.13V334.04M218.5 331.28V333.55M219 330.93V333.97M219.5 331.42V333.72M220 331.28V333.72M220.5 331.02V333.49M221 330.72V333.55M221.5 331.23V333.23M222 331.11V333.55M222.5 331.1V333.37M223 331.19V333.62M223.5 330.92V333.75M224 331.03V333.7M224.5 331.36V333.41M225 331V333.53M225.5 331.24V333.55M226 331.4V333.79M226.5 331.02V333.45M227 331.13V333.79M227.5 331.36V333.63M228 331.07V334.03M228.5 331.44V333.57M229 331.39V333.78M229.5 331.16V333.59M230 331.07V334.01M230.5 330.9V333.79M231 331.33V333.52M231.5 331.47V333.39M232 330.94V333.47M232.5 331.12V333.55M233 331.32V333.54M233.5 331.35V333.55M234 331.19V333.55M234.5 331.13V333.72M235 331.26V333.56M235.5 330.92V333.71M236 330.96V333.69M236.5 331.25V333.78M237 331.07V333.58M237.5 331.4V333.56M238 331.58V334.21M238.5 331.63V333.73M239 331.34V334.24M239.5 331.32V333.92M240 331.5V334.36M240.5 331.62V334.09M241 331.79V334.26M241.5 331.9V334.43M242 331.77V334.12M242.5 331.58V334.24M243 331.45V333.97M243.5 331.37V333.79M244 331.4V334.27M244.5 331.55V334.08M245 331.37V334M245.5 331.14V334.13M246 331.25V333.77M246.5 331.37V333.95M247 330.92V333.67M247.5 331.44V333.53M248 330.9V333.5M248.5 331.1V333.56M249 331.32V333.54M249.5 331.36V333.77M250 330.9V333.94M250.5 331.5V333.94M251 331.45V333.55M251.5 324V343M252 325.54V337.98M252.5 327.87V337.09M253 329.81V337.88M253.5 329.62V336.75M254 328.79V335.55M254.5 327.11V337.7M255 328.06V336.26M255.5 328.8V337.24M256 328.2V335.68M256.5 329.01V338.64M257 325.86V339.12M257.5 328.12V338.77M258 328.7V337.95M258.5 327.98V336.24M259 325.29V338.3M259.5 324.71V338.23M260 328.38V336.49M260.5 325.36V339.91M261 325.78V336.72M261.5 325.39V339.69M262 327.84V336.23M262.5 328.16V336.36M263 328.28V339.21M263.5 328.21V339.92M264 325.94V338.44M264.5 327.68V341.84M265 324.56V337.31M265.5 325.75V339.57M266 326.58V339.64M266.5 325.69V342.37M267 327.52V340.5M267.5 325.43V340.62M268 325.77V343.23M268.5 327.9V337.94M269 326.03V338.79M269.5 327.74V342.61M270 327.73V340.73M270.5 322.21V343.85M271 327.59V340.29M271.5 324.71V340.81M272 323.67V338.33M272.5 325.97V338.63M273 323.91V338.75M273.5 319.19V341.09M274 318.73V340.52M274.5 316.03V343.64M275 322.89V342.54M275.5 316.22V345.84M276 319.55V348.05M276.5 319.63V350.87M277 305.52V350.93M277.5 298.68V364.58M278 318.29V362.77M278.5 303.87V371.5M279 316.47V363.53M279.5 320.92V348.93M280 319.71V343.63M280.5 317.97V344.21M281 309.43V351.81M281.5 319.67V357.22M282 311.51V351.25M282.5 310.57V348.79M283 318.83V350.54M283.5 317.44V357.87M284 298.37V360.87M284.5 315.2V354.56M285 311.57V356.32M285.5 317.86V346.23M286 308.71V361.95M286.5 317.28V346.98M287 305.64V362.08M287.5 308.12V368.15M288 283.99V385.17M288.5 301.28V353.3M289 304.74V366.39M289.5 308.29V357.96M290 318.46V345.45M290.5 317.94V356.91M291 320.21V345.13M291.5 321.63V347.49M292 315.98V343.59M292.5 316.91V344.73M293 315.47V352.15M293.5 311V343.18M294 321.25V347.94M294.5 318.68V343.65M295 313.8V342.96M295.5 318.27V348.87M296 322.29V352.19M296.5 319.89V341.11M297 318V343.8M297.5 323.21V348.69M298 318.14V348.68M298.5 316.87V341.14M299 318.3V346.71M299.5 317.77V343.5M300 317.9V339.27M300.5 325.61V343.26M301 325.34V339.04M301.5 326.15V338.4M302 323.44V344.47M302.5 324.03V338.18M303 324.51V339.3M303.5 322.43V343.56M304 322.63V342.47M304.5 327.22V339.97M305 324.71V338.19M305.5 323.05V337.79M306 325.28V341.62M306.5 324.3V338.15M307 326.76V338.1M307.5 327.21V341.84M308 326.18V338.64M308.5 328.78V339.93M309 329.48V337.75M309.5 329.29V337.4M310 327.38V335.84M310.5 329.48V338.19M311 327.78V335.69M311.5 326.39V336.17M312 327.35V335.71M312.5 327.84V335.71M313 327.36V335.65M313.5 326.85V337.02M314 328.95V335.42M314.5 328.62V335.43M315 327.96V336.2M315.5 327.86V336.25M316 329.35V337.87M316.5 327.95V336M317 328.37V335.56M317.5 328.5V335.22M318 326.95V338.16M318.5 327.42V335.9M319 328.21V336.07M319.5 327.11V335.91M320 327.44V336.59M320.5 328.28V335.19M321 329.25V336.82M321.5 329.31V336.93M322 327.53V336.76M322.5 329.86V336.24M323 328.33V335.15M323.5 327.94V336.19M324 328.01V335.54M324.5 329.11V335.29M325 329.5V336.83M325.5 329.83V336.11M326 329.86V337.46M326.5 328.11V335.19M327 328.01V334.94M327.5 329.67V336.05M328 328.99V335.61M328.5 329.13V335.76M329 328.5V335.75M329.5 328.78V335.4M330 328.47V335.95M330.5 330.42V336.34M331 329.18V337.14M331.5 328.71V335.57M332 328.56V337.08M332.5 329.51V335.3M333 330.07V335.25M333.5 330.45V335.64M334 328.34V337.54M334.5 328.12V335.91M335 330.3V337.39M335.5 329.68V336.69M336 330.39V336.76M336.5 328.27V336.12M337 330.3V336.14M337.5 328.71V335.57M338 329.78V336.29M338.5 329.9V335.75M339 329.94V335.71M339.5 328.53V335.38M340 329.11V335.08M340.5 328.31V336.17M341 329.01V336.23M341.5 329.82V335.12M342 330.2V335.36M342.5 329.51V335.38M343 328.36V335.99M343.5 329.18V336.12M344 330.49V335.08M344.5 329.3V335.8M345 328.57V334.9M345.5 329.92V335.61M346 329.67V335.8M346.5 330.07V336.25M347 329.67V335.49M347.5 330.13V335.37M348 329.37V336.35M348.5 328.9V336.3M349 330.34V335.61M349.5 330.31V334.83M350 330.04V334.77M350.5 329.3V334.36M351 330.31V334.84M351.5 328.74V334.3M352 330.01V334.14M352.5 329.41V334.94M353 330.33V334.5M353.5 330.03V334.21M354 329.47V335.3M354.5 330.59V334.89M355 330.42V334.76M355.5 330.63V334.34M356 330.87V335.08M356.5 330.65V334.4M357 331.03V334.78M357.5 330.95V335.8M358 330.79V334.47M358.5 330.41V335.03M359 330.1V334.59M359.5 330.05V335.52M360 330.42V335.23M360.5 330.55V335.92M361 330.35V334.67M361.5 330.53V335.02M362 330.38V336.05M362.5 330.21V334.7M363 329.82V335.13M363.5 330.07V334.64M364 329.93V334.51M364.5 329.98V335.4M365 329.45V334.67M365.5 330.21V335.5M366 329.84V334.41M366.5 330.77V335.57M367 329.65V334.92M367.5 330.82V335.54M368 330.76V335.06M368.5 329.72V335.36M369 329.72V335.45M369.5 330.19V334.29M370 330.81V334.96M370.5 331.09V335.07M371 330.16V335.69M371.5 330.05V335.41M372 329.91V334.51M372.5 330.17V335.29M373 329.77V334.17M373.5 330.62V335.01M374 329.97V334.81M374.5 330.32V334.79M375 330.36V334.01M375.5 330.47V334.72M376 329.75V335M376.5 329.58V334.08M377 330.34V334.6M377.5 330.13V333.72M378 330.47V334.73M378.5 329.65V333.83M379 329.69V334.63M379.5 330.18V333.68M380 330.68V334.73M380.5 329.97V333.82M381 330.13V334.13M381.5 330.31V334.74M382 330.27V334.21M382.5 330.86V334.65M383 330.59V334.04M383.5 331.23V334.54M384 330.56V334.34M384.5 331.27V334.22M385 331.04V334.38M385.5 331.47V334.15M386 331.33V334.89M386.5 331.27V334.59M387 331.21V334.76M387.5 330.84V334.38M388 330.88V333.99M388.5 331.02V334.09M389 330.97V333.75M389.5 331V334.18M390 331.37V333.72M390.5 331.3V334.35M391 330.7V334.25M391.5 331.43V333.92M392 330.89V333.88M392.5 331.24V334.32M393 331.36V334M393.5 331.13V334.38M394 331.23V334.56M394.5 331.6V334.19M395 331.61V334.2M395.5 331.62V334.26M396 331.5V334.28M396.5 331.44V334.57M397 331.65V334.44M397.5 331.09V334.69M398 331.55V334.04M398.5 331.48V334.06M399 330.97V334.24M399.5 331.1V334.13M400 331.42V334.3M400.5 331.22V334.32M401 331.12V334.42M401.5 331.19V334.15M402 330.61V333.59M402.5 330.92V334.05M403 330.92V333.71M403.5 330.54V333.62M404 330.82V333.76M404.5 330.42V333.66M405 331.14V333.42M405.5 330.7V333.89M406 330.55V333.61M406.5 331.02V334.02M407 330.58V334.18M407.5 331.04V333.85M408 330.77V333.63M408.5 331.05V334.01M409 330.95V333.79M409.5 331.34V334.25M410 331.16V333.82M410.5 331.33V334.36M411 331.05V333.97M411.5 331.1V333.88M412 331.16V333.84M412.5 331.04V333.94M413 331.14V334.19M413.5 331.26V333.97M414 330.96V334.04M414.5 331.05V334.34M415 330.71V334.3M415.5 331.03V333.82M416 330.86V334.08M416.5 330.59V333.52M417 330.92V334.06M417.5 331.32V333.66M418 330.75V334.08M418.5 331.07V333.85M419 331.18V334.15M419.5 331.21V333.95M420 331.12V333.8M420.5 331.35V334.22M421 331.37V334.21M421.5 330.95V333.99M422 331.14V334.69M422.5 331.45V333.99M423 331.6V334.67M423.5 331.65V334.2M424 331.37V334.63M424.5 331.17V333.98M425 331.34V334.45M425.5 331.04V334.31M426 331.34V334.1M426.5 331.42V334.54M427 331.27V334M427.5 330.91V334.09M428 330.99V333.89M428.5 331.21V334.14M429 330.98V333.93M429.5 331.08V333.63M430 330.85V334M430.5 331.04V333.55M431 331.22V333.72M431.5 331.23V334.18M432 330.88V333.69M432.5 330.97V333.89M433 331.04V333.62M433.5 330.9V333.61M434 330.68V333.69M434.5 330.83V333.74M435 331.25V333.92M435.5 330.95V334.14M436 331.38V333.66M436.5 330.77V333.92M437 330.76V333.93M437.5 331.4V334.32M438 331.06V333.73M438.5 330.8V333.92M439 331.31V333.59M439.5 331.11V333.75M440 330.83V333.75M440.5 331.25V334.08M441 331.17V334M441.5 330.64V333.45M442 330.53V333.58M442.5 331.11V333.98M443 330.55V333.59M443.5 331.15V333.37M444 330.64V333.95M444.5 331.08V333.5M445 331.12V333.9M445.5 330.79V334.11M446 331.14V333.91M446.5 331.14V333.79M447 331.08V334.42M447.5 331.63V334.02M448 331.64V333.81M448.5 331.4V334.33M449 331.1V334.34M449.5 331.4V333.97M450 331.31V334.45M450.5 331.1V334.29M451 331.56V333.93M451.5 331.08V334.59M452 331.28V334.03M452.5 331.32V334.31M453 331.56V334.31M453.5 330.94V334.01M454 331.27V334.27M454.5 331.56V334.12M455 330.85V333.93M455.5 331.46V333.86M456 331.32V333.98M456.5 330.93V334.14M457 331.22V333.83M457.5 331.29V333.97M458 331.05V334.09M458.5 331.21V334.11M459 331.09V333.73M459.5 331.11V334.05M460 331.58V334.15M460.5 330.95V334.16M461 331.53V334.04M461.5 331.25V334.48M462 331.41V334.07M462.5 331.31V334.13M463 331.37V334.03M463.5 331.37V334.38M464 331.4V333.75M464.5 331.21V334.27M465 331.5V334.25M465.5 331.1V333.85M466 331.29V333.75M466.5 331.01V333.44M467 330.67V333.93M467.5 331.01V333.52M468 330.94V333.74M468.5 330.89V333.61M469 330.65V333.99M469.5 330.66V333.45M470 330.59V333.68M470.5 330.87V333.57M471 330.62V333.72M471.5 330.87V333.7M472 331.2V333.62M472.5 331.17V333.53M473 331.47V333.91M473.5 330.85V333.76M474 331.21V334.01M474.5 331.39V333.92M475 331.41V334.01M475.5 331.24V334.31M476 331.7V333.91M476.5 331.37V334.32M477 331.25V334.49M477.5 331.71V334.44M478 331.31V334.32M478.5 331.32V333.81M479 331.23V333.98M479.5 331.2V334.22M480 331.17V334.37M480.5 330.98V334.28M481 331.15V333.76M481.5 330.96V333.63M482 330.93V334.11M482.5 331.04V333.61M483 330.96V333.71M483.5 331.13V334.02M484 331.07V334.33M484.5 331.2V333.89M485 331.16V334.04M485.5 331.34V333.79M486 331.07V333.99M486.5 331.63V334.13M487 331.68V334.53M487.5 331.62V334.28M488 331.21V334M488.5 331.25V333.88M489 331.17V334.08M489.5 331.17V334.53M490 331.12V334.41M490.5 331.04V333.91M491 331.65V333.94M491.5 331.34V334.2M492 331.43V334.03M492.5 330.86V333.68M493 331.27V333.97M493.5 331.04V333.73M494 331.11V333.48M494.5 330.7V333.88M495 331.14V333.51M495.5 331.07V333.81M496 331.09V333.65M496.5 331.25V333.73M497 331.25V333.32M497.5 330.7V333.53M498 330.35V334.32M498.5 330.32V334.44M499 330.04V334.03M499.5 329.98V334.02M500 330.27V334.82M500.5 330.75V335.09M501 329.93V334.31M501.5 329.82V334.93M502 329.37V335.87M502.5 330.25V335.2M503 329.12V335.21M503.5 330.5V335.95M504 328.93V334.6M504.5 330.09V335.88M505 330.36V336.54M505.5 328.89V335.04M506 329.37V336.2M506.5 329.95V335.01M507 329.17V335.51M507.5 328.51V335.55M508 329.99V336.47M508.5 329.12V336.75M509 329.75V336.58M509.5 330.25V334.96M510 329.18V335.14M510.5 328.98V335.36M511 328.9V336.24M511.5 328.7V336.4M512 328.83V336.87M512.5 329.05V336.93M513 330.46V335M513.5 329.35V335.82M514 330.35V337.21M514.5 329.74V335.72M515 329.02V335.36M515.5 329.8V335.36M516 330.2V336.88M516.5 329.98V336.03M517 329.06V335.05M517.5 328.99V335.58M518 329.61V335.92M518.5 329.8V336.12M519 329.49V335.41M519.5 330.13V334.86M520 330.48V334.71M520.5 330.86V334.05M521 330.93V335.16M521.5 330.77V334.41M522 330.07V334.43M522.5 330.49V334.43M523 330.33V334.24M523.5 330.59V333.85M524 331.28V333.97M524.5 330.87V333.74M525 330.72V333.75M525.5 331.11V334.16M526 331.23V333.81M526.5 331.2V334.31M527 331.53V334.17M527.5 330.86V333.7M528 331.32V333.74M528.5 331V333.66M529 331.12V333.81M529.5 331.48V334.11M530 330.93V333.67M530.5 331.15V334.24M531 331.2V334.16M531.5 330.63V334.19M532 331.06V333.89M532.5 331.03V334.19M533 330.92V333.49M533.5 330.96V333.51M534 330.77V333.97M534.5 331.21V333.69M535 330.66V333.53M535.5 330.8V333.56M536 331.25V333.67M536.5 331.34V334.13M537 331.15V333.78M537.5 330.84V333.94M538 331.1V334.38M538.5 331.4V333.98M539 331.03V333.94M539.5 331.43V334.27M540 331.77V334.25M540.5 331.67V334.01M541 331.16V334.05M541.5 331.8V334.1M542 331.56V334.33M542.5 331.79V334.19M543 331.1V334.34M543.5 331.31V334.43M544 331.59V334.21M544.5 331.19V334.18M545 331.04V334.37M545.5 331.15V334.03M546 331.14V334.21M546.5 331.53V333.79M547 330.82V333.93M547.5 331.06V334.17M548 331.03V334.32M548.5 330.98V334.37M549 331.44V334.12M549.5 331.27V333.74M550 331.41V334.16M550.5 331.51V334M551 331.04V334.06M551.5 331.02V334.48M552 331.23V334.42M552.5 331.08V334.23M553 331.06V334.46M553.5 331.25V334.1M554 331.7V334.36M554.5 331V333.97M555 331.68V333.84M555.5 331.21V333.93M556 330.9V334.25M556.5 331.49V334.1M557 331.2V334.18M557.5 331.02V333.79M558 330.73V334.06M558.5 330.96V333.92M559 331.02V333.78M559.5 330.84V333.58M560 330.63V333.83M560.5 331.16V333.96M561 330.88V334.04M561.5 330.91V333.87M562 330.97V333.82M562.5 331.39V334.08M563 331.41V333.94M563.5 331.13V334.12M564 331.13V333.96M564.5 331.49V334.2M565 331.31V334.19M565.5 331.05V334.45M566 331.14V333.98M566.5 331.76V334.3M567 331.17V334.1M567.5 331.69V334.57M568 331.23V334.52M568.5 331.23V334.12M569 331.32V334.15M569.5 331.2V334.72M570 331.86V334.16M570.5 331.46V334.65M571 331.78V334.64M571.5 331.65V334.23M572 331.23V334.3M572.5 331.1V334.1M573 331.53V334.02M573.5 331.21V334.53M574 331.66V334.51M574.5 331.18V334.27M575 331.06V334.49M575.5 331.58V334.23M576 331.65V334.63M576.5 331.55V334.31M577 331.85V334.49M577.5 331.68V334.26M578 331.93V334.5M578.5 332.01V334.13M579 331.86V334.2M579.5 331.42V334.47M580 331.44V334.17M580.5 331.58V334.68M581 331.8V334.48M581.5 331.97V334.62M582 331.92V334.15M582.5 331.54V334.18M583 331.14V333.92M583.5 331.48V334.48M584 331.57V334.26M584.5 330.95V334.43M585 331.04V334.08M585.5 331.17V333.85M586 331.12V334.18M586.5 330.85V333.95M587 331.1V333.61M587.5 331.16V333.9M588 331.09V334.36M588.5 331.11V334.01M589 331.46V333.95M589.5 331.24V334.38M590 331.44V334.12M590.5 331.73V334.11M591 331.14V334.31M591.5 331.13V334.17M592 331.71V334.56M592.5 331.5V334.53M593 331.42V334.37M593.5 331.5V334.35M594 331.9V334.6M594.5 331.28V334.44M595 331.6V334.46M595.5 331.75V334.36M596 331.54V334.54M596.5 331.3V334.13M597 331.83V334.61M597.5 331.61V334.37M598 331.24V334.22M598.5 331.69V333.98M599 331.83V334.4M599.5 331.45V334.01M600 331.21V334M600.5 331.23V334.69M601 331.36V334.08M601.5 331.92V334.09M602 331.59V334.19M602.5 331.98V334.55M603 331.78V334.55M603.5 331.57V334.76M604 332V334.3M604.5 331.95V334.53M605 332.09V334.64M605.5 331.95V334.8M606 331.81V334.8M606.5 332.32V334.5M607 332.26V334.65M607.5 331.56V334.89M608 331.53V334.74M608.5 331.93V334.76M609 331.77V334.71M609.5 331.79V334.45M610 331.94V334.34M610.5 331.34V334.09M611 331.4V334.24M611.5 331.32V334.08M612 331.19V334.24M612.5 331.61V333.91M613 331.32V334.04M613.5 331.23V333.92M614 331.46V334.38M614.5 331.29V334.48M615 331.17V334.05M615.5 331.81V334.56M616 331.18V334.57M616.5 331.5V334M617 331.89V334.54M617.5 331.64V334.58M618 331.56V334.2M618.5 331.6V334.36M619 332.01V334.18M619.5 331.54V334.84M620 331.51V334.33M620.5 331.96V334.22M621 332.02V334.5M621.5 331.33V334.49M622 331.28V334.07M622.5 331.92V334.33M623 331.83V334.15M623.5 331.58V334.37M624 331.85V334.21M624.5 331.17V334.01M625 331.18V334.28M625.5 331.87V334.31M626 331.66V334.05M626.5 331.28V334.63M627 331.56V334.54M627.5 331.85V334.55M628 331.41V334.45M628.5 332.11V334.85M629 331.45V334.38M629.5 331.88V334.78M630 331.8V334.65M630.5 331.8V334.68M631 331.96V334.49M631.5 332.07V334.7M632 332.4V334.85M632.5 332.01V334.98M633 331.77V335.27M633.5 331.99V334.95M634 332.22V335.23M634.5 332.05V335.19M635 331.71V334.52M635.5 331.87V334.51M636 331.62V334.47M636.5 331.67V334.9M637 331.55V334.66M637.5 331.57V334.8M638 331.94V334.23M638.5 331.61V334.22M639 331.73V334.34M639.5 331.46V334.53M640 331.45V334.51M640.5 331.44V334.24M641 331.78V334.44M641.5 331.47V334.42M642 331.79V334.88M642.5 331.75V334.36M643 332.23V334.79M643.5 331.99V334.64M644 332.07V334.75M644.5 332.01V335.05M645 331.92V334.97M645.5 331.96V335.07M646 332.16V334.99M646.5 332.08V334.47M647 331.69V334.52M647.5 331.99V334.55M648 332.06V334.81M648.5 331.66V334.27M649 331.86V334.35M649.5 331.59V334.73M650 331.62V334.5M650.5 331.95V334.02M651 331.47V334.22M651.5 331.77V334.51M652 331.6V334.18M652.5 331.53V334.5M653 331.38V334.04M653.5 331.73V334.13M654 331.68V334.46M654.5 331.84V334.86M655 331.71V334.33M655.5 331.93V334.5M656 331.79V334.87M656.5 332.26V334.53M657 332.32V334.49M657.5 332.13V334.96M658 332.14V335M658.5 332.2V334.72M659 331.85V334.67M659.5 332.24V335.01M660 331.99V334.68M660.5 332.26V334.82M661 332.25V335.12M661.5 332.35V334.63M662 332.47V334.99M662.5 331.87V334.7M663 332.11V334.78M663.5 331.9V335.05M664 332.06V335.12M664.5 331.71V334.84M665 331.85V334.79M665.5 332.3V334.64M666 331.77V334.84M666.5 332.2V335.06M667 331.89V334.82M667.5 332.23V335.19M668 332.04V335.15M668.5 332.51V335.08M669 332.11V334.93M669.5 332.32V335.08M670 332.46V335.11M670.5 332.37V335.29M671 332.28V335.31M671.5 331.98V334.67M672 332.32V334.71M672.5 332.06V334.75M673 332.15V334.64M673.5 331.91V335.18M674 331.82V334.86M674.5 331.72V334.42M675 332.32V334.97M675.5 331.87V334.92M676 332.13V334.45M676.5 331.95V334.6M677 331.89V334.29M677.5 331.9V334.35M678 331.61V334.44M678.5 331.6V334.44M679 331.69V334.77M679.5 332.13V334.57M680 331.74V334.78M680.5 332.04V334.76M681 331.97V334.87M681.5 332.29V334.9M682 331.9V334.4M682.5 332.03V334.52M683 332.15V334.79M683.5 332.37V334.61M684 331.9V334.73M684.5 331.96V334.79M685 332.02V334.96M685.5 331.94V334.9M686 332.55V334.79M686.5 332.23V335.23M687 332.22V335.01M687.5 332.25V335.11M688 331.94V334.66M688.5 331.94V334.92M689 331.92V334.63M689.5 332.39V334.71M690 332.38V334.97M690.5 332.38V334.71M691 332.44V335.04M691.5 332.15V334.55M692 332.01V334.84M692.5 331.97V334.66M693 332.34V335.04M693.5 332.27V335.31M694 332.16V335.14M694.5 332.18V334.93M695 332.55V334.98M695.5 332.4V335.29M696 332.49V335.47M696.5 332.5V335.06M697 332.72V335.16M697.5 332.6V335.2M698 332.25V335.04M698.5 332.54V335.46M699 332.76V334.98M699.5 332.56V335.13M700 332.68V334.99M700.5 332.63V335.11M701 331.98V334.76M701.5 332.13V335.32M702 332.18V334.92M702.5 332.17V334.9M703 332V334.49M703.5 331.83V334.5M704 332.28V335.02M704.5 332.39V334.71M705 331.8V335M705.5 332.22V334.84M706 332.2V335.04M706.5 331.95V334.68M707 331.86V335M707.5 332.46V335.16M708 331.92V335.28M708.5 332.49V335M709 331.97V335.17M709.5 332.63V335.2M710 332.05V334.89M710.5 332.02V335.31M711 332.37V335.18M711.5 332.28V335.32M712 332.69V335.42M712.5 332.6V334.78M713 332.54V335.19M713.5 332.27V335M714 332.58V335.11M714.5 332.46V335.23M715 332.22V334.79M715.5 332.25V335.16M716 332.03V334.83M716.5 331.95V334.78M717 332.16V335.14M717.5 332.43V335.25M718 332.27V335.29M718.5 332.6V334.98M719 332.5V335.42M719.5 332.54V335.37M720 332.28V334.87M720.5 332.57V335.3M721 332.62V335.49M721.5 332.88V335.39M722 332.44V335.4M722.5 332.89V335.35M723 333.17V335.57M723.5 332.82V335.72M724 332.83V335.42M724.5 332.64V335.45M725 333.04V335.82M725.5 333.02V335.78M726 333.1V335.31M726.5 333.02V335.51M727 332.53V335.52M727.5 332.65V335.2M728 332.62V335.14M728.5 332.76V335.62M729 332.28V335.07M729.5 332.69V335.22M730 332.79V335.06M730.5 332.51V335.14M731 332.55V335.34M731.5 332.17V335.22M732 332.76V335.22M732.5 332.85V335.54M733 332.83V335.23M733.5 332.72V335.53M734 332.7V335.59M734.5 332.52V335.22M735 332.35V335.27M735.5 332.44V335.26M736 333.02V335.5M736.5 332.81V335.35M737 332.49V335.75M737.5 332.88V335.32M738 333.02V335.32M738.5 332.78V335.35M739 332.3V335.2M739.5 332.56V335.23M740 332.88V335.52M740.5 332.16V334.88M741 332.61V335.08M741.5 332.15V334.87M742 332.74V335.11M742.5 332.31V335.28M743 332.43V335.07M743.5 332.1V335.07M744 332.2V335.38M744.5 332.18V335.46M745 332.77V335.37M745.5 332.36V335.12M746 332.53V335.03M746.5 332.49V335.62M747 332.93V335.67M747.5 333.16V335.43M748 333V335.65M748.5 332.84V335.86M749 333.16V335.84M749.5 333.37V335.94M750 332.94V335.47M750.5 333.16V335.99M751 332.87V335.64M751.5 333.15V335.51M752 333.23V335.95M752.5 333.23V335.97M753 333.01V336.03M753.5 333.17V335.73M754 332.85V335.77M754.5 333.07V335.36M755 332.81V335.65M755.5 333.12V335.46M756 332.72V335.3M756.5 332.83V335.38M757 332.72V335.87M757.5 332.85V335.86M758 333.13V335.88M758.5 333.09V335.31M759 332.69V335.9M759.5 332.94V335.93M760 332.76V335.57M760.5 332.85V335.97M761 333.47V335.71M761.5 333.04V336.13M762 333.14V335.57M762.5 333.16V336.13M763 333.26V335.63M763.5 333.27V335.97M764 333.25V335.47M764.5 333.06V336.08M765 332.83V335.52M765.5 332.65V335.92M766 333.27V335.28M766.5 332.77V335.51M767 332.55V335.25M767.5 333.01V335.58M768 332.8V335.31M768.5 333.04V335.17M769 333.03V335.6M769.5 332.71V335.37M770 332.52V335.44M770.5 332.9V335.08M771 332.77V335.58M771.5 332.71V335.19M772 332.65V335.73M772.5 332.91V335.24M773 332.89V335.85M773.5 332.78V335.93M774 333.04V335.81M774.5 333.46V335.49M775 333.18V335.66M775.5 333.4V336.03M776 333.26V335.96M776.5 333.44V336.05M777 333V335.75M777.5 332.94V335.72M778 333.46V336.11M778.5 333.49V335.74M779 333.27V336.01M779.5 332.86V335.69M780 333.31V336.12M780.5 332.84V335.62M781 333.3V335.93M781.5 332.8V335.77M782 333.21V336.12M782.5 333.47V335.83M783 332.92V335.61M783.5 333.54V335.86M784 333.15V335.58M784.5 332.98V335.97M785 333.16V336.3M785.5 333.13V336.1M786 333.31V336.07M786.5 333.54V336.42M787 333.21V335.9M787.5 333.78V336.43M788 333.25V336.3M788.5 333.52V335.91M789 333.81V336.02M789.5 333.7V336.51M790 333.65V336.12M790.5 333.5V336.33M791 333.49V336.14M791.5 333.41V335.75M792 333.25V336.21M792.5 333.62V336.23M793 332.98V335.96M793.5 333.38V335.69M794 332.92V336.01M794.5 333.38V336.03M795 333.13V335.46M795.5 333.15V335.48M796 333.09V335.76M796.5 333.17V335.69M797 333V335.79M797.5 333.09V335.89M798 333.14V335.76M798.5 333.1V335.6M799 333.22V335.64M799.5 333.47V336.17M800 333.36V335.69M800.5 333.44V335.78M801 333.21V336.27M801.5 333.45V336.26M802 333.76V336.06M802.5 333.43V336.1M803 333.59V336.26M803.5 333.31V336.33M804 333.65V336.13M804.5 333.48V336.1M805 333.67V336.25M805.5 333.58V336.09M806 333.22V335.76M806.5 333.43V336.23M807 333.55V335.67M807.5 333.22V335.69M808 333.07V335.87M808.5 333.29V335.95M809 333.44V335.71M809.5 333.69V335.77M810 333.36V335.79M810.5 333.66V336.36M811 333.46V336.05M811.5 333.39V336.51M812 333.37V336.1M812.5 334.06V336.67M813 334.04V336.53M813.5 333.58V336.2M814 334.1V336.68M814.5 333.77V336.25M815 334.1V336.86M815.5 333.68V336.77M816 334.05V336.59M816.5 334.14V336.67M817 333.69V336.64M817.5 334.18V336.6M818 333.98V336.11M818.5 333.72V336.58M819 333.92V336.42M819.5 333.92V336.01M820 333.97V336.15M820.5 333.39V336.18M821 333.27V335.93M821.5 333.28V336.35M822 333.83V336.42M822.5 333.31V336.25M823 333.76V336.02M823.5 333.35V336.49M824 333.44V336.27M824.5 333.38V336.42M825 333.62V336.04M825.5 333.76V336.31M826 333.9V336.4M826.5 333.58V336.34M827 333.6V336.14M827.5 333.8V336.56M828 333.59V336.65M828.5 333.9V336.62M829 333.78V336.13M829.5 333.53V336.48M830 333.98V336.23M830.5 333.77V336.5M831 333.87V336.35M831.5 333.26V336.05M832 333.56V336.16M832.5 333.25V336.33M833 333.39V336.33M833.5 333.42V336.21M834 333.55V336.05M834.5 333.45V336.37M835 333.53V336.19M835.5 333.49V336.35M836 333.33V336.29M836.5 333.39V336.08M837 333.41V336.4M837.5 333.49V336.45M838 333.99V336.62M838.5 333.93V336.6M839 333.9V336.65M839.5 334.3V336.36M840 334.05V336.93M840.5 333.91V336.95M841 334.02V336.72M841.5 334.26V336.72M842 334.35V336.68M842.5 334.27V336.72M843 333.91V336.63M843.5 334.27V336.77M844 334.26V336.89M844.5 334.18V336.37M845 334.34V336.37M845.5 333.82V336.72M846 333.97V336.66M846.5 334.09V336.35M847 334.25V336.31M847.5 333.79V336.59M848 334.13V336.48M848.5 334.16V336.61M849 333.81V336.79M849.5 333.96V336.57M850 334.35V336.51M850.5 334.02V336.71M851 334.41V336.72M851.5 333.95V336.71M852 333.96V336.67M852.5 333.92V337M853 333.98V336.91M853.5 334.53V336.71M854 334.49V337.1M854.5 334.44V336.61M855 334.09V336.46M855.5 333.86V336.82M856 334.11V336.74M856.5 333.96V336.77M857 333.99V336.89M857.5 334.23V336.38M858 333.59V336.22M858.5 334.14V336.74M859 333.98V336.65M859.5 333.92V336.46M860 333.63V336.52M860.5 333.71V336.41M861 333.66V336.31M861.5 334V336.12M862 334.05V336.57M862.5 333.69V336.25M863 333.59V336.58M863.5 334.08V336.38M864 333.88V336.52M864.5 333.92V336.55M865 334.03V336.74M865.5 334.42V336.7M866 334.15V336.51M866.5 334.04V337.04M867 334.58V336.98M867.5 334.21V337.09M868 334.26V337.15M868.5 334.19V336.7M869 334.42V337.04M869.5 334.38V337.11M870 334.24V336.8M870.5 334.27V337.14M871 334.13V336.92M871.5 334.09V337.06M872 334.1V336.81M872.5 334.22V336.71M873 334.34V336.61M873.5 334.46V336.66M874 334.43V336.94M874.5 334.16V336.52M875 334.11V336.65M875.5 334.38V336.97M876 334.5V336.62M876.5 334.56V337.02M877 334.17V336.79M877.5 334.46V336.82M878 334.85V337.25M878.5 334.64V336.95M879 334.7V337.02M879.5 334.47V337.28M880 334.7V337.09M880.5 334.72V336.95M881 334.38V337.04M881.5 334.29V336.84M882 334.37V337.37M882.5 334.26V336.87M883 334.19V337.31M883.5 334.06V336.71M884 334V336.91M884.5 334.06V336.79M885 334.09V337.06M885.5 334.35V336.5M886 334.35V336.75M886.5 334.42V336.62M887 334.26V336.91M887.5 333.82V336.88M888 334.27V336.77M888.5 334.1V336.77M889 334.28V336.49M889.5 333.92V336.61M890 334.32V337.03M890.5 334.01V336.92M891 334.34V336.8M891.5 334.05V336.96M892 334.42V337.05M892.5 334.34V336.74M893 334.38V337.19M893.5 334.22V337.29M894 334.48V336.8M894.5 334.42V336.77M895 334.26V337.22M895.5 334.21V337.05M896 334.6V336.91M896.5 334.34V336.67M897 334.19V337.2M897.5 334.39V336.95M898 334.14V337.05M898.5 334.47V337.06M899 334.11V337.04M899.5 334.6V336.74M900 334.34V337.11M900.5 334.46V336.66M901 334.63V336.77M901.5 334.28V337.17M902 334.8V337.05M902.5 334.36V337.03M903 334.69V337.24M903.5 334.98V337.13M904 334.75V337.28M904.5 334.76V337.42M905 334.9V337.48M905.5 334.66V337.43M906 334.96V337.46M906.5 334.69V337.38M907 334.65V337.14M907.5 334.96V337.23M908 334.97V337.56M908.5 334.97V337.07M909 334.87V337.32M909.5 334.73V337.24M910 334.61V337.55M910.5 334.81V337.07M911 334.33V337.13M911.5 334.57V336.92M912 334.6V336.89M912.5 334.21V337.01M913 334.57V336.79M913.5 334.35V337.05M914 334.74V336.85M914.5 334.71V337.15M915 334.53V337.27M915.5 334.39V336.94M916 334.64V337.37M916.5 334.62V337.1M917 334.52V337.46M917.5 334.95V337.32M918 334.5V336.98M918.5 334.63V337.49M919 334.6V337.35M919.5 334.56V337.21M920 334.74V337.02M920.5 334.65V336.91M921 334.44V337.13M921.5 334.91V337.46M922 334.48V337.39M922.5 334.32V336.82M923 334.24V336.98M923.5 334.24V337.3M924 334.76V337.27M924.5 334.68V336.75M925 334.37V336.87M925.5 334.21V336.69M926 334.62V336.93M926.5 334.57V336.97M927 334.45V336.75M927.5 334.82V337.29M928 334.85V337.21M928.5 334.79V337.09M929 334.67V337.46M929.5 335.05V337.35M930 334.63V337.54M930.5 334.86V337.24M931 334.91V337.5M931.5 334.84V337.46M932 335.07V337.82M932.5 334.86V337.87M933 334.7V337.55M933.5 334.69V337.65M934 334.47V337.86M934.5 334.81V337.66M935 334.53V338.51M935.5 333.84V338.44M936 334.05V337.9M936.5 334.1V337.66M937 334.15V337.95M937.5 334.58V338M938 334.23V338.31M938.5 333.67V338.34M939 332.98V338.47M939.5 333.71V340.01M940 333.94V338.99M940.5 331.57V339M941 331.54V339.84M941.5 332.14V341.36M942 332.62V340.69M942.5 333.62V340.92M943 333.88V341.23M943.5 332.35V340.27M944 332.38V339.38M944.5 333.34V338.45M945 332.8V338.94M945.5 333.47V338.33M946 334.34V338.22M946.5 333.6V338.03M947 333.95V339.08M947.5 334.62V337.74M948 334.15V338.33M948.5 334.36V338.23M949 334.62V338.04M949.5 334.43V337.83M950 334.49V337.73M950.5 334.25V337.63M951 334.6V337.33M951.5 334.71V337.54M952 334.78V336.99M952.5 334.4V337.13M953 334.87V337.44M953.5 334.66V337.55M954 334.84V337.19M954.5 335.01V337.46M955 334.8V337.47M955.5 335.19V337.59M956 335.08V337.47M956.5 335.05V337.31M957 335.13V337.41M957.5 335.2V337.78M958 335.25V337.99M958.5 335.12V337.41M959 335.04V337.69M959.5 335.43V337.83M960 335.2V337.57M960.5 335.39V337.42M961 334.91V337.52M961.5 334.93V337.63M962 335.35V337.49M962.5 335.19V337.54M963 335.26V337.51M963.5 335.34V337.81M964 335.13V337.76M964.5 335.24V337.58M965 335.36V337.66M965.5 334.84V337.74M966 334.95V337.77M966.5 335.48V337.77M967 335.07V337.95M967.5 335.33V337.97M968 335.53V338.01M968.5 335.05V337.64M969 335.46V338.14M969.5 335.7V337.82M970 335.56V338.27M970.5 335.2V338.07M971 335.56V338.23M971.5 335.73V338.3M972 335.51V337.92M972.5 335.4V338.12M973 335.56V337.71M973.5 335.42V338.01M974 335.35V337.64M974.5 335.1V337.64M975 335.34V337.73M975.5 335.34V337.85M976 335.01V337.32M976.5 334.93V337.79M977 335.19V337.36M977.5 335.24V337.58M978 334.92V337.58M978.5 334.66V337.55M979 334.88V337.68M979.5 334.71V337.39M980 335.07V337.35M980.5 335.12V337.4M981 335.06V337.83M981.5 335.35V337.86M982 335.12V337.6M982.5 334.96V337.57M983 335.15V337.59M983.5 335.01V337.87M984 335.37V337.88M984.5 335.5V337.84M985 335.35V337.91M985.5 335.08V338.11M986 335.2V337.66M986.5 335.44V337.73M987 335.27V338.09M987.5 335.35V338.01M988 335.23V337.76M988.5 334.93V337.93M989 335.43V337.69M989.5 335.1V337.71M990 335.13V337.77M990.5 335.46V337.51M991 335.49V337.76M991.5 335.49V338.06M992 335.18V337.83M992.5 335.54V337.75M993 335.23V337.82M993.5 335.41V337.97M994 335.77V337.82M994.5 335.38V337.92M995 335.72V337.98M995.5 335.51V338.29M996 335.66V338.42M996.5 335.8V338.34M997 335.51V338.04M997.5 335.91V338.31M998 336.02V338.12M998.5 335.63V338.46M999 335.55V338.14M999.5 335.52V338.22M1000 335.48V338.18M1000.5 335.38V337.91M1001 335.32V338.1M1001.5 335.35V338.1M1002 335.61V338.08M1002.5 335.21V338.14M1003 335.34V337.77M1003.5 335.67V338.16M1004 335.25V337.98M1004.5 335.04V338.08M1005 335.29V338.04M1005.5 335.17V337.74M1006 335.57V337.89M1006.5 335.36V337.92M1007 335.16V337.78M1007.5 335.63V338.2M1008 335.45V338.23M1008.5 335.69V337.74M1009 335.65V338.14M1009.5 335.56V338.35M1010 335.61V338.12M1010.5 335.78V338.32M1011 335.43V338.08M1011.5 335.55V337.88M1012 335.66V337.99M1012.5 335.32V337.93M1013 335.47V337.88M1013.5 335.21V337.65M1014 335.46V338.18M1014.5 335.13V338.07M1015 335.48V338.13M1015.5 335.06V337.61M1016 335.29V337.88M1016.5 335.52V337.95M1017 335.19V338.06M1017.5 335.4V338.12M1018 335.6V338.06M1018.5 335.69V337.72M1019 335.34V337.95M1019.5 335.61V337.84M1020 335.72V338.17M1020.5 335.68V338.04M1021 335.53V338.5M1021.5 335.64V338.2M1022 335.93V338.66M1022.5 335.97V338.6M1023 336V338.69M1023.5 335.96V338.22M1024 336.15V338.21M1024.5 335.99V338.69M1025 336.19V338.69M1025.5 335.87V338.31M1026 336.12V338.74M1026.5 335.66V338.41M1027 336.02V338.69M1027.5 335.56V338.57M1028 336V338.03M1028.5 335.69V338.56M1029 335.57V338.55M1029.5 335.9V338.46M1030 335.55V338.46M1030.5 335.82V338M1031 335.51V338.33M1031.5 335.78V338.3M1032 335.98V338.57M1032.5 336.05V338.36M1033 335.82V338.46M1033.5 335.81V338.4M1034 335.61V338.38M1034.5 335.8V338.39M1035 336.02V338.38M1035.5 335.78V338.27M1036 335.95V338.29M1036.5 335.84V338.19M1037 335.8V338.65M1037.5 335.69V338.38M1038 335.87V338.32M1038.5 335.72V338.36M1039 335.84V338.54M1039.5 335.74V338.51M1040 335.73V338.44M1040.5 335.57V337.84M1041 335.88V337.82M1041.5 335.64V337.96M1042 335.28V338.3M1042.5 335.5V338.15M1043 335.33V337.94M1043.5 335.71V337.85M1044 335.75V337.89M1044.5 335.71V337.9M1045 335.32V337.87M1045.5 335.72V337.89M1046 335.71V337.95M1046.5 335.88V338.48M1047 335.98V338.19M1047.5 335.54V338.4M1048 335.96V338.38M1048.5 335.65V338.48M1049 335.69V338.54M1049.5 335.86V338.54M1050 335.76V338.53M1050.5 335.91V338.52M1051 336.27V338.86M1051.5 336.06V338.56M1052 336.1V338.79M1052.5 335.96V338.35M1053 336.27V338.24M1053.5 335.92V338.22M1054 335.8V338.77M1054.5 336.14V338.56M1055 335.96V338.43M1055.5 335.93V338.24M1056 336.05V338.38M1056.5 335.81V338.61M1057 336.07V338.37M1057.5 336.09V338.3M1058 336.06V338.47M1058.5 336.25V338.59M1059 335.85V338.49M1059.5 335.83V338.46M1060 336.36V338.77M1060.5 336.42V338.81M1061 336.38V339.01M1061.5 336.24V338.84M1062 336.11V338.57M1062.5 336.28V339.09M1063 336.15V338.96M1063.5 336.12V338.68M1064 336.2V338.82M1064.5 336.13V338.94M1065 336.05V338.69M1065.5 336.16V338.66M1066 336V338.52M1066.5 335.8V338.6M1067 335.81V338.41M1067.5 335.78V338.59M1068 336.08V338.56M1068.5 335.75V338.12M1069 335.69V338.27M1069.5 336.02V338.07M1070 335.49V338.1M1070.5 335.81V338.58M1071 335.97V338.62M1071.5 336.02V338.13M1072 335.74V338.5M1072.5 335.91V338.29M1073 336.03V338.65M1073.5 335.85V338.51M1074 336.07V338.47M1074.5 336.35V338.48M1075 335.85V338.38M1075.5 336.37V338.92M1076 336.11V338.91M1076.5 336.22V338.49M1077 336.35V338.54M1077.5 336.15V338.88M1078 336.27V338.86M1078.5 336.32V338.8M1079 336.3V338.72"/>
</g>
<path fill="none" stroke="#000" stroke-width="0.95" d="M121 586 v8M231.88 586 v4M342.76 586 v8M453.64 586 v4M564.52 586 v8M675.4 586 v4M786.28 586 v8M897.16 586 v4M1008.04 586 v8M121 82 v-8M160.92 82 v-4M200.83 82 v-4M240.75 82 v-8M280.67 82 v-4M320.58 82 v-4M360.5 82 v-8M400.42 82 v-4M440.33 82 v-4M480.25 82 v-8M520.17 82 v-4M560.08 82 v-4M600 82 v-8M639.92 82 v-4M679.83 82 v-4M719.75 82 v-8M759.67 82 v-4M799.58 82 v-4M839.5 82 v-8M879.42 82 v-4M919.33 82 v-4M959.25 82 v-8M999.17 82 v-4M1039.08 82 v-4M1079 82 v-8M121 586 h-8M1079 586 h8M121 577.6 h-4M1079 577.6 h4M121 569.2 h-4M1079 569.2 h4M121 560.8 h-4M1079 560.8 h4M121 552.4 h-4M1079 552.4 h4M121 544 h-4M1079 544 h4M121 535.6 h-4M1079 535.6 h4M121 527.2 h-4M1079 527.2 h4M121 518.8 h-4M1079 518.8 h4M121 510.4 h-4M1079 510.4 h4M121 502 h-8M1079 502 h8M121 493.6 h-4M1079 493.6 h4M121 485.2 h-4M1079 485.2 h4M121 476.8 h-4M1079 476.8 h4M121 468.4 h-4M1079 468.4 h4M121 460 h-4M1079 460 h4M121 451.6 h-4M1079 451.6 h4M121 443.2 h-4M1079 443.2 h4M121 434.8 h-4M1079 434.8 h4M121 426.4 h-4M1079 426.4 h4M121 418 h-8M1079 418 h8M121 409.6 h-4M1079 409.6 h4M121 401.2 h-4M1079 401.2 h4M121 392.8 h-4M1079 392.8 h4M121 384.4 h-4M1079 384.4 h4M121 376 h-4M1079 376 h4M121 367.6 h-4M1079 367.6 h4M121 359.2 h-4M1079 359.2 h4M121 350.8 h-4M1079 350.8 h4M121 342.4 h-4M1079 342.4 h4M121 334 h-8M1079 334 h8M121 325.6 h-4M1079 325.6 h4M121 317.2 h-4M1079 317.2 h4M121 308.8 h-4M1079 308.8 h4M121 300.4 h-4M1079 300.4 h4M121 292 h-4M1079 292 h4M121 283.6 h-4M1079 283.6 h4M121 275.2 h-4M1079 275.2 h4M121 266.8 h-4M1079 266.8 h4M121 258.4 h-4M1079 258.4 h4M121 250 h-8M1079 250 h8M121 241.6 h-4M1079 241.6 h4M121 233.2 h-4M1079 233.2 h4M121 224.8 h-4M1079 224.8 h4M121 216.4 h-4M1079 216.4 h4M121 208 h-4M1079 208 h4M121 199.6 h-4M1079 199.6 h4M121 191.2 h-4M1079 191.2 h4M121 182.8 h-4M1079 182.8 h4M121 174.4 h-4M1079 174.4 h4M121 166 h-8M1079 166 h8M121 157.6 h-4M1079 157.6 h4M121 149.2 h-4M1079 149.2 h4M121 140.8 h-4M1079 140.8 h4M121 132.4 h-4M1079 132.4 h4M121 124 h-4M1079 124 h4M121 115.6 h-4M1079 115.6 h4M121 107.2 h-4M1079 107.2 h4M121 98.8 h-4M1079 98.8 h4M121 90.4 h-4M1079 90.4 h4M121 82 h-8M1079 82 h8"/>
<rect x="121" y="82" width="958" height="504" fill="none" stroke="#000" stroke-width="2"/>
<g class="ann" text-anchor="middle">
<text x="121" y="616.4">0</text>
<text x="342.76" y="616.4">20000</text>
<text x="564.52" y="616.4">40000</text>
<text x="786.28" y="616.4">60000</text>
<text x="1008.04" y="616.4">80000</text>
</g>
<g class="ann" text-anchor="end">
<text x="104" y="593">−300</text>
<text x="104" y="509">−200</text>
<text x="104" y="425">−100</text>
<text x="104" y="341">0</text>
<text x="104" y="257">100</text>
<text x="104" y="173">200</text>
<text x="104" y="89">300</text>
</g>
<g class="top">
<text transform="translate(123.9 72.2) rotate(-30)" x="0" y="0">00:00</text>
<text transform="translate(243.65 72.2) rotate(-30)" x="0" y="0">03:00</text>
<text transform="translate(363.4 72.2) rotate(-30)" x="0" y="0">06:00</text>
<text transform="translate(483.15 72.2) rotate(-30)" x="0" y="0">09:00</text>
<text transform="translate(602.9 72.2) rotate(-30)" x="0" y="0">12:00</text>
<text transform="translate(722.65 72.2) rotate(-30)" x="0" y="0">15:00</text>
<text transform="translate(842.4 72.2) rotate(-30)" x="0" y="0">18:00</text>
<text transform="translate(962.15 72.2) rotate(-30)" x="0" y="0">21:00</text>
<text transform="translate(1081.9 72.2) rotate(-30)" x="0" y="0">00:00</text>
</g>
<text class="lab" text-anchor="middle" x="600.3" y="654.5">Time [s]</text>
<text class="lab" text-anchor="middle" transform="translate(41.8 333.6) rotate(-90)">Signal [nm/s<tspan font-size="17.9px" dy="-8.4">2</tspan><tspan dy="8.4">]</tspan></text>
<text class="ann" style="font-size:19.5px" x="459.6" y="111.4">Start time 2016−04−22 00:00:00</text>
<text class="note" x="178.3" y="580.9">USGS: 2016−04−22 03:03:41 (M6.0) NEAR THE COAST OF ECUADOR −0.3 −80.5 (72724)</text>
<rect x="134.5" y="103" width="296" height="59" rx="0.8" ry="0.8" fill="#fff" stroke="#a0a0a0" stroke-width="1"/>
<path d="M163.6 118.3H208.1" stroke="#c9c800" stroke-width="2.8" fill="none"/>
<path d="M163.6 147.9H208.1" stroke="#000" stroke-width="2.8" fill="none"/>
<text class="leg" x="222.8" y="124.6">GRAV ___BRES.low−pass</text>
<text class="leg" x="222.8" y="153.6">GRAV ___BRES</text>
</svg>
</body>
</html>
